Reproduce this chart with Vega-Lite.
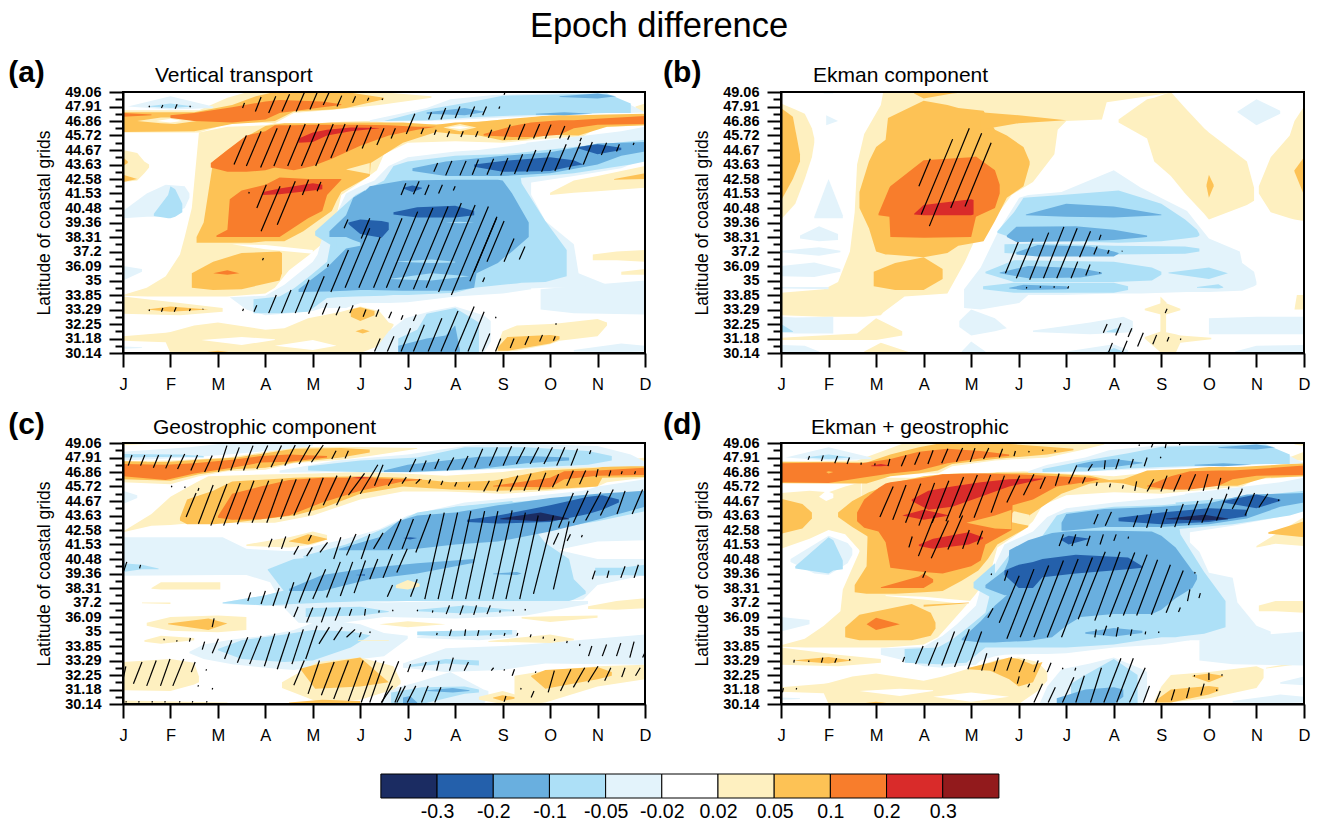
{"$schema":"https://vega.github.io/schema/vega-lite/v6.json","background":"white","padding":{"left":8,"top":8,"right":5,"bottom":5},
"title":{"text":"Epoch difference","font":"Liberation Sans","fontSize":34.5,"fontWeight":"normal","anchor":"middle","offset":14},
"config":{"font":"Liberation Sans","view":{"stroke":null},"axis":{"grid":false,"domainColor":"black","tickColor":"black","domainWidth":2,"tickWidth":2,"labelOverlap":false,"labelFlush":false}},
"datasets":{"a":[
{"g":1,"x":0,"l":3.95,"h":4,"v":0.03},{"g":1,"x":0.5,"l":3.9,"h":4.5,"v":0.03},{"g":1,"x":0.9,"l":3.9,"h":5.3,"v":0.03},{"g":1,"x":1.2,"l":3.9,"h":6.8,"v":0.03},{"g":1,"x":1.3,"l":3.9,"h":8,"v":0.03},{"g":1,"x":1.45,"l":3.9,"h":10,"v":0.03},{"g":1,"x":1.6,"l":3.9,"h":15.2,"v":0.03},{"g":1,"x":2.2,"l":3.9,"h":15.6,"v":0.03},{"g":1,"x":3,"l":4.1,"h":15.7,"v":0.03},{"g":1,"x":3.2,"l":4.5,"h":15.85,"v":0.03},{"g":1,"x":3.5,"l":5.7,"h":15.85,"v":0.03},{"g":1,"x":3.9,"l":6.7,"h":15.85,"v":0.03},{"g":1,"x":4.15,"l":7.4,"h":15.85,"v":0.03},{"g":1,"x":4.5,"l":9.5,"h":15.9,"v":0.03},{"g":1,"x":4.6,"l":10.9,"h":15.95,"v":0.03},{"g":1,"x":5.1,"l":12,"h":16,"v":0.03},{"g":1,"x":5.35,"l":12.6,"h":16,"v":0.03},{"g":1,"x":5.5,"l":13.7,"h":15.9,"v":0.03},{"g":1,"x":6,"l":14.5,"h":15.8,"v":0.03},{"g":1,"x":7,"l":14.6,"h":15.8,"v":0.03},{"g":1,"x":8,"l":14.5,"h":16.1,"v":0.03},{"g":1,"x":9,"l":14.8,"h":16.2,"v":0.03},{"g":1,"x":9.7,"l":14.95,"h":16.3,"v":0.03},{"g":1,"x":10,"l":15.55,"h":16.3,"v":0.03},{"g":1,"x":11,"l":15.7,"h":16.45,"v":0.03},
{"g":2,"x":0,"l":15.2,"h":16.75,"v":0.03},{"g":2,"x":1.6,"l":15.2,"h":16.75,"v":0.03},{"g":2,"x":2.2,"l":15.8,"h":17.6,"v":0.03},{"g":2,"x":2.63,"l":15.9,"h":18,"v":0.03},{"g":2,"x":3.2,"l":15.85,"h":18,"v":0.03},{"g":2,"x":3.6,"l":16.55,"h":18,"v":0.03},{"g":2,"x":4.5,"l":16.8,"h":18,"v":0.03},{"g":2,"x":5.4,"l":17.1,"h":18,"v":0.03},{"g":2,"x":6.5,"l":17.6,"h":17.7,"v":0.03},
{"g":3,"x":0,"l":15.25,"h":16.6,"v":0.07},{"g":3,"x":1.5,"l":15.3,"h":16.6,"v":0.07},{"g":3,"x":2.3,"l":15.8,"h":17.1,"v":0.07},{"g":3,"x":2.8,"l":15.9,"h":17.7,"v":0.07},{"g":3,"x":3.2,"l":16,"h":18,"v":0.07},{"g":3,"x":3.6,"l":16.65,"h":18,"v":0.07},{"g":3,"x":4.4,"l":16.8,"h":18,"v":0.07},{"g":3,"x":4.7,"l":16.9,"h":18,"v":0.07},{"g":3,"x":5.5,"l":17.5,"h":17.6,"v":0.07},
{"g":4,"x":0.3,"l":16,"h":16,"v":0.03},{"g":4,"x":0.8,"l":15.85,"h":16.25,"v":0.03},{"g":4,"x":1.1,"l":15.8,"h":16.25,"v":0.03},{"g":4,"x":1.55,"l":16,"h":16,"v":0.03},
{"g":5,"x":0.7,"l":16,"h":16,"v":0},{"g":5,"x":1,"l":15.9,"h":16.15,"v":0},{"g":5,"x":1.25,"l":16,"h":16,"v":0},
{"g":6,"x":0,"l":16.3,"h":16.55,"v":0.15},{"g":6,"x":0.6,"l":16.4,"h":16.45,"v":0.15},
{"g":7,"x":1,"l":16.2,"h":16.4,"v":0.15},{"g":7,"x":1.5,"l":16,"h":16.55,"v":0.15},{"g":7,"x":2.3,"l":15.9,"h":16.95,"v":0.15},{"g":7,"x":3,"l":16.1,"h":17.35,"v":0.15},{"g":7,"x":3.3,"l":16.55,"h":17.45,"v":0.15},{"g":7,"x":4.2,"l":16.95,"h":17.35,"v":0.15},{"g":7,"x":4.6,"l":17.1,"h":17.15,"v":0.15},
{"g":8,"x":2.3,"l":7.5,"h":7.5,"v":0},{"g":8,"x":3,"l":7.15,"h":7.45,"v":0},{"g":8,"x":4,"l":6.85,"h":7.1,"v":0},
{"g":9,"x":1.55,"l":7.6,"h":8,"v":0.07},{"g":9,"x":1.7,"l":7.6,"h":9,"v":0.07},{"g":9,"x":1.9,"l":7.6,"h":13.2,"v":0.07},{"g":9,"x":2.2,"l":7.6,"h":14,"v":0.07},{"g":9,"x":2.7,"l":7.6,"h":15.1,"v":0.07},{"g":9,"x":3,"l":7.7,"h":15.65,"v":0.07},{"g":9,"x":3.4,"l":7.7,"h":15.85,"v":0.07},{"g":9,"x":3.8,"l":8.4,"h":15.85,"v":0.07},{"g":9,"x":4.1,"l":9.1,"h":15.85,"v":0.07},{"g":9,"x":4.4,"l":9.8,"h":15.9,"v":0.07},{"g":9,"x":4.5,"l":10.5,"h":15.9,"v":0.07},{"g":9,"x":4.6,"l":11.1,"h":15.9,"v":0.07},{"g":9,"x":5.2,"l":12.2,"h":15.9,"v":0.07},{"g":9,"x":5.22,"l":13.1,"h":15.9,"v":0.07},{"g":9,"x":5.9,"l":14.5,"h":15.9,"v":0.07},{"g":9,"x":6.6,"l":15.25,"h":15.75,"v":0.07},{"g":9,"x":7,"l":15.1,"h":15.9,"v":0.07},{"g":9,"x":7.5,"l":15,"h":15.95,"v":0.07},{"g":9,"x":8,"l":14.65,"h":16.1,"v":0.07},{"g":9,"x":8.5,"l":14.75,"h":16.25,"v":0.07},{"g":9,"x":9,"l":15.05,"h":16.4,"v":0.07},{"g":9,"x":9.6,"l":15,"h":16.4,"v":0.07},{"g":9,"x":10.2,"l":15.6,"h":16.45,"v":0.07},{"g":9,"x":11,"l":15.7,"h":16.5,"v":0.07},
{"g":10,"x":4.7,"l":12.65,"h":12.65,"v":0.03},{"g":10,"x":5.2,"l":12.35,"h":13.1,"v":0.03},
{"g":11,"x":6.75,"l":15.55,"h":15.55,"v":0.03},{"g":11,"x":7.1,"l":15.3,"h":15.8,"v":0.03},{"g":11,"x":7.45,"l":15.55,"h":15.55,"v":0.03},
{"g":12,"x":6.85,"l":15.55,"h":15.55,"v":0},{"g":12,"x":7.1,"l":15.45,"h":15.65,"v":0},{"g":12,"x":7.3,"l":15.55,"h":15.55,"v":0},
{"g":13,"x":1.85,"l":12.8,"h":13.1,"v":0.15},{"g":13,"x":2.2,"l":12.5,"h":14,"v":0.15},{"g":13,"x":2.6,"l":12.5,"h":15,"v":0.15},{"g":13,"x":3,"l":12.6,"h":15.3,"v":0.15},{"g":13,"x":3.2,"l":12.8,"h":15.7,"v":0.15},{"g":13,"x":3.6,"l":12.6,"h":15.7,"v":0.15},{"g":13,"x":4,"l":12.9,"h":15.75,"v":0.15},{"g":13,"x":4.4,"l":13.4,"h":15.75,"v":0.15},{"g":13,"x":5,"l":14.3,"h":15.75,"v":0.15},{"g":13,"x":5.6,"l":15,"h":15.7,"v":0.15},{"g":13,"x":6.2,"l":15.4,"h":15.6,"v":0.15},{"g":13,"x":6.6,"l":15.6,"h":15.6,"v":0.15},
{"g":14,"x":7.6,"l":15,"h":15.1,"v":0.15},{"g":14,"x":8.2,"l":14.9,"h":15.65,"v":0.15},{"g":14,"x":8.6,"l":14.9,"h":15.9,"v":0.15},{"g":14,"x":9.2,"l":15.05,"h":16.05,"v":0.15},{"g":14,"x":9.5,"l":15.5,"h":16.05,"v":0.15},{"g":14,"x":10,"l":15.75,"h":16.15,"v":0.15},{"g":14,"x":11,"l":15.8,"h":16.35,"v":0.15},
{"g":15,"x":3.7,"l":14.5,"h":14.8,"v":0.25},{"g":15,"x":4,"l":14.55,"h":15.2,"v":0.25},{"g":15,"x":4.3,"l":15,"h":15.4,"v":0.25},{"g":15,"x":4.8,"l":15.3,"h":15.55,"v":0.25},{"g":15,"x":5.4,"l":15.5,"h":15.52,"v":0.25},
{"g":16,"x":1.97,"l":8,"h":8.1,"v":0.15},{"g":16,"x":2.2,"l":8,"h":8.5,"v":0.15},{"g":16,"x":2.25,"l":8,"h":10.6,"v":0.15},{"g":16,"x":2.5,"l":8,"h":11.2,"v":0.15},{"g":16,"x":3,"l":8,"h":11.6,"v":0.15},{"g":16,"x":3.3,"l":8,"h":12.1,"v":0.15},{"g":16,"x":3.9,"l":9.3,"h":12,"v":0.15},{"g":16,"x":4.2,"l":9.8,"h":12,"v":0.15},{"g":16,"x":4.3,"l":10.9,"h":12,"v":0.15},{"g":16,"x":4.6,"l":11.95,"h":12,"v":0.15},
{"g":17,"x":2.95,"l":10.9,"h":11.1,"v":0.25},{"g":17,"x":3.3,"l":10.95,"h":11.35,"v":0.25},{"g":17,"x":4,"l":11.2,"h":11.7,"v":0.25},{"g":17,"x":4.2,"l":11.3,"h":11.6,"v":0.25},
{"g":18,"x":1.45,"l":4.5,"h":5.5,"v":0.07},{"g":18,"x":1.9,"l":4.35,"h":6.3,"v":0.07},{"g":18,"x":2.5,"l":4.4,"h":6.9,"v":0.07},{"g":18,"x":3.3,"l":5,"h":7,"v":0.07},{"g":18,"x":3.35,"l":5.5,"h":6.9,"v":0.07},
{"g":19,"x":1.9,"l":5.5,"h":5.5,"v":0.15},{"g":19,"x":2.2,"l":5.4,"h":5.7,"v":0.15},{"g":19,"x":2.45,"l":5.5,"h":5.5,"v":0.15},
{"g":20,"x":0,"l":2.7,"h":3.9,"v":0.03},{"g":20,"x":1.2,"l":2.6,"h":3.45,"v":0.03},{"g":20,"x":2.1,"l":2.85,"h":3.1,"v":0.03},
{"g":21,"x":0.5,"l":3,"h":3,"v":0.07},{"g":21,"x":1,"l":2.85,"h":3.2,"v":0.07},{"g":21,"x":1.8,"l":3,"h":3,"v":0.07},
{"g":22,"x":0,"l":0.85,"h":1.15,"v":0.03},{"g":22,"x":0.9,"l":0.75,"h":1.4,"v":0.03},{"g":22,"x":1,"l":0,"h":1.45,"v":0.03},{"g":22,"x":1.5,"l":0,"h":1.9,"v":0.03},{"g":22,"x":2,"l":0,"h":2.1,"v":0.03},{"g":22,"x":3,"l":0,"h":1.6,"v":0.03},{"g":22,"x":3.4,"l":0,"h":1.7,"v":0.03},{"g":22,"x":3.9,"l":0,"h":2.4,"v":0.03},{"g":22,"x":4.6,"l":0,"h":2.85,"v":0.03},{"g":22,"x":5,"l":0,"h":3.2,"v":0.03},{"g":22,"x":5.4,"l":0.5,"h":2.9,"v":0.03},{"g":22,"x":5.6,"l":1.4,"h":2.1,"v":0.03},{"g":22,"x":5.7,"l":1.9,"h":2,"v":0.03},
{"g":23,"x":1.65,"l":0.9,"h":0.9,"v":0},{"g":23,"x":2.5,"l":0.55,"h":1.1,"v":0},{"g":23,"x":3.2,"l":0.9,"h":0.95,"v":0},
{"g":24,"x":3.2,"l":0.5,"h":0.5,"v":0},{"g":24,"x":4,"l":0.2,"h":0.9,"v":0},{"g":24,"x":4.5,"l":0.5,"h":0.5,"v":0},
{"g":25,"x":4.8,"l":2.5,"h":3,"v":0.07},{"g":25,"x":5,"l":2.2,"h":3.15,"v":0.07},{"g":25,"x":5.3,"l":2.6,"h":2.9,"v":0.07},
{"g":26,"x":4.9,"l":1.5,"h":1.5,"v":0.07},{"g":26,"x":5.05,"l":1.35,"h":1.65,"v":0.07},{"g":26,"x":5.2,"l":1.5,"h":1.5,"v":0.07},
{"g":27,"x":1.6,"l":0,"h":0,"v":0.07},{"g":27,"x":2,"l":0,"h":0.15,"v":0.07},{"g":27,"x":2.4,"l":0,"h":0,"v":0.07},
{"g":28,"x":7.85,"l":0.1,"h":0.2,"v":0.03},{"g":28,"x":8,"l":0.1,"h":1.5,"v":0.03},{"g":28,"x":8.3,"l":0.15,"h":1.9,"v":0.03},{"g":28,"x":9,"l":0.6,"h":2,"v":0.03},{"g":28,"x":9.2,"l":0.85,"h":2.05,"v":0.03},{"g":28,"x":10,"l":1.15,"h":2.35,"v":0.03},{"g":28,"x":10.2,"l":1.9,"h":2.1,"v":0.03},
{"g":29,"x":7.9,"l":0.15,"h":0.4,"v":0.07},{"g":29,"x":8.1,"l":0.15,"h":1.1,"v":0.07},{"g":29,"x":9,"l":0.65,"h":1.25,"v":0.07},{"g":29,"x":9.2,"l":0.95,"h":1.15,"v":0.07},
{"g":30,"x":9,"l":10.9,"h":11.05,"v":0.03},{"g":30,"x":9.5,"l":11.05,"h":11.9,"v":0.03},{"g":30,"x":10,"l":11.15,"h":12.2,"v":0.03},{"g":30,"x":11,"l":11.4,"h":12.9,"v":0.03},
{"g":31,"x":10.35,"l":11.95,"h":12,"v":0.07},{"g":31,"x":11,"l":12,"h":12.4,"v":0.07},
{"g":32,"x":10.8,"l":16.6,"h":17,"v":0.03},{"g":32,"x":11,"l":16.6,"h":17.2,"v":0.03},
{"g":33,"x":9.9,"l":6.4,"h":6.8,"v":0.03},{"g":33,"x":10.4,"l":6.4,"h":7,"v":0.03},{"g":33,"x":11,"l":6.3,"h":7.1,"v":0.03},
{"g":34,"x":10.5,"l":5.4,"h":5.6,"v":0.03},{"g":34,"x":11,"l":5.4,"h":5.8,"v":0.03},
{"g":35,"x":0,"l":11.8,"h":14,"v":0.03},{"g":35,"x":0.3,"l":11.9,"h":13.8,"v":0.03},{"g":35,"x":0.45,"l":12.4,"h":13.2,"v":0.03},{"g":35,"x":0.55,"l":12.8,"h":13,"v":0.03},
{"g":36,"x":0,"l":12.9,"h":13.5,"v":0.07},{"g":36,"x":0.1,"l":13.1,"h":13.2,"v":0.07},
{"g":37,"x":0,"l":11.8,"h":12.3,"v":0.07},{"g":37,"x":0.3,"l":12,"h":12,"v":0.07},
{"g":38,"x":2.25,"l":3.85,"h":3.85,"v":-0.03},{"g":38,"x":2.6,"l":3,"h":3.9,"v":-0.03},{"g":38,"x":3,"l":2.6,"h":3.95,"v":-0.03},{"g":38,"x":3.4,"l":2.7,"h":4.7,"v":-0.03},{"g":38,"x":3.7,"l":2.8,"h":5.5,"v":-0.03},{"g":38,"x":4,"l":2.9,"h":6.3,"v":-0.03},{"g":38,"x":4.1,"l":3,"h":6.8,"v":-0.03},{"g":38,"x":4.2,"l":3.1,"h":8,"v":-0.03},{"g":38,"x":4.5,"l":3.1,"h":9.6,"v":-0.03},{"g":38,"x":4.7,"l":3.1,"h":11,"v":-0.03},{"g":38,"x":5,"l":3.45,"h":11.5,"v":-0.03},{"g":38,"x":5.3,"l":3.45,"h":11.9,"v":-0.03},{"g":38,"x":5.6,"l":3.45,"h":12.9,"v":-0.03},{"g":38,"x":6,"l":3.5,"h":13.5,"v":-0.03},{"g":38,"x":7,"l":3.9,"h":13.9,"v":-0.03},{"g":38,"x":7.5,"l":4,"h":14,"v":-0.03},{"g":38,"x":8,"l":4.1,"h":14.2,"v":-0.03},{"g":38,"x":8.6,"l":4.4,"h":14.5,"v":-0.03},
{"g":39,"x":8.55,"l":4.45,"h":11.2,"v":-0.03},{"g":39,"x":8.9,"l":4.5,"h":9.1,"v":-0.03},{"g":39,"x":9.5,"l":4.5,"h":7.5,"v":-0.03},{"g":39,"x":9.6,"l":4.5,"h":5.5,"v":-0.03},{"g":39,"x":10.2,"l":4.6,"h":4.7,"v":-0.03},
{"g":40,"x":8.5,"l":11.7,"h":14.5,"v":-0.03},{"g":40,"x":9.5,"l":12.2,"h":14.9,"v":-0.03},{"g":40,"x":10.5,"l":12.75,"h":15.3,"v":-0.03},{"g":40,"x":11,"l":13.4,"h":15.6,"v":-0.03},
{"g":41,"x":8.8,"l":3,"h":4.4,"v":-0.03},{"g":41,"x":9.5,"l":2.75,"h":4.6,"v":-0.03},{"g":41,"x":11,"l":2.65,"h":5,"v":-0.03},
{"g":42,"x":0,"l":9.3,"h":9.8,"v":-0.03},{"g":42,"x":0.5,"l":9.4,"h":11,"v":-0.03},{"g":42,"x":0.9,"l":9.4,"h":11.6,"v":-0.03},{"g":42,"x":1.3,"l":10,"h":11.5,"v":-0.03},{"g":42,"x":1.4,"l":10.7,"h":11,"v":-0.03},
{"g":43,"x":0.65,"l":9.45,"h":9.6,"v":-0.07},{"g":43,"x":0.95,"l":9.3,"h":10.9,"v":-0.07},{"g":43,"x":1,"l":9.3,"h":11.5,"v":-0.07},{"g":43,"x":1.1,"l":9.4,"h":11.3,"v":-0.07},{"g":43,"x":1.25,"l":9.7,"h":10.3,"v":-0.07},
{"g":44,"x":0.1,"l":17,"h":17,"v":-0.03},{"g":44,"x":1,"l":16.8,"h":17.7,"v":-0.03},{"g":44,"x":1.9,"l":16.9,"h":17,"v":-0.03},
{"g":45,"x":0.5,"l":17,"h":17,"v":-0.07},{"g":45,"x":1,"l":16.9,"h":17.2,"v":-0.07},{"g":45,"x":1.5,"l":17,"h":17,"v":-0.07},
{"g":46,"x":0,"l":5,"h":6,"v":-0.03},{"g":46,"x":0.4,"l":5.6,"h":5.8,"v":-0.03},
{"g":47,"x":0,"l":0.3,"h":0.45,"v":-0.03},{"g":47,"x":0.4,"l":0.35,"h":0.4,"v":-0.03},
{"g":48,"x":5.2,"l":15.95,"h":16.05,"v":-0.03},{"g":48,"x":6.4,"l":16,"h":16.9,"v":-0.03},{"g":48,"x":6.9,"l":16.05,"h":17.5,"v":-0.03},{"g":48,"x":7.8,"l":16.2,"h":17.8,"v":-0.03},{"g":48,"x":10,"l":16.55,"h":18,"v":-0.03},{"g":48,"x":10.7,"l":16.55,"h":17.1,"v":-0.03},{"g":48,"x":11,"l":16.6,"h":16.6,"v":-0.03},
{"g":49,"x":5.5,"l":16,"h":16,"v":-0.07},{"g":49,"x":6.5,"l":16.05,"h":16.85,"v":-0.07},{"g":49,"x":7.3,"l":16.25,"h":17.3,"v":-0.07},{"g":49,"x":8,"l":16.35,"h":17.75,"v":-0.07},{"g":49,"x":10.2,"l":16.55,"h":17.9,"v":-0.07},{"g":49,"x":10.7,"l":16.55,"h":17.2,"v":-0.07},
{"g":50,"x":6.4,"l":16.5,"h":16.6,"v":-0.15},{"g":50,"x":7.2,"l":16.4,"h":16.9,"v":-0.15},{"g":50,"x":7.6,"l":16.6,"h":16.65,"v":-0.15},
{"g":51,"x":8.7,"l":16.45,"h":16.5,"v":-0.15},{"g":51,"x":9.3,"l":16.4,"h":16.6,"v":-0.15},{"g":51,"x":9.9,"l":16.5,"h":16.5,"v":-0.15},
{"g":52,"x":9.2,"l":17.65,"h":17.7,"v":-0.15},{"g":52,"x":10,"l":17.55,"h":17.9,"v":-0.15},{"g":52,"x":10.4,"l":17.7,"h":17.7,"v":-0.15},
{"g":53,"x":2.75,"l":2.75,"h":3.7,"v":-0.07},{"g":53,"x":3.3,"l":2.75,"h":3.9,"v":-0.07},{"g":53,"x":3.6,"l":2.8,"h":4.45,"v":-0.07},{"g":53,"x":3.9,"l":2.85,"h":5.2,"v":-0.07},{"g":53,"x":4.3,"l":3.8,"h":6.3,"v":-0.07},{"g":53,"x":4.5,"l":3.85,"h":9.7,"v":-0.07},{"g":53,"x":4.9,"l":3.9,"h":10.9,"v":-0.07},{"g":53,"x":5.5,"l":3.95,"h":11.9,"v":-0.07},{"g":53,"x":5.7,"l":4,"h":12.9,"v":-0.07},{"g":53,"x":6,"l":4,"h":13.2,"v":-0.07},{"g":53,"x":7,"l":4.15,"h":13.6,"v":-0.07},{"g":53,"x":7.4,"l":4.5,"h":13.65,"v":-0.07},{"g":53,"x":8,"l":4.7,"h":13.7,"v":-0.07},{"g":53,"x":8.3,"l":4.8,"h":13.8,"v":-0.07},{"g":53,"x":8.4,"l":4.85,"h":11.7,"v":-0.07},{"g":53,"x":8.9,"l":4.9,"h":9.1,"v":-0.07},{"g":53,"x":9.35,"l":5.3,"h":7.1,"v":-0.07},
{"g":54,"x":4.05,"l":8.1,"h":8.4,"v":-0.07},{"g":54,"x":4.5,"l":7.2,"h":9.7,"v":-0.07},
{"g":55,"x":8.3,"l":12.05,"h":13.8,"v":-0.07},{"g":55,"x":9.5,"l":12.4,"h":14.2,"v":-0.07},{"g":55,"x":10.7,"l":13,"h":14.6,"v":-0.07},{"g":55,"x":11,"l":13.2,"h":14.7,"v":-0.07},
{"g":56,"x":3.7,"l":4.2,"h":4.4,"v":-0.15},{"g":56,"x":4.3,"l":4.25,"h":5.9,"v":-0.15},{"g":56,"x":4.7,"l":4.3,"h":7.2,"v":-0.15},{"g":56,"x":5,"l":4.35,"h":7.4,"v":-0.15},{"g":56,"x":5.05,"l":4.35,"h":11,"v":-0.15},{"g":56,"x":5.2,"l":4.35,"h":11.5,"v":-0.15},{"g":56,"x":5.9,"l":4.3,"h":11.9,"v":-0.15},{"g":56,"x":7,"l":4.3,"h":11.95,"v":-0.15},{"g":56,"x":7.4,"l":4.5,"h":11.95,"v":-0.15},{"g":56,"x":7.45,"l":5.5,"h":11.95,"v":-0.15},{"g":56,"x":7.9,"l":6.2,"h":11.95,"v":-0.15},{"g":56,"x":8,"l":6.5,"h":11.9,"v":-0.15},{"g":56,"x":8.2,"l":7,"h":11,"v":-0.15},{"g":56,"x":8.55,"l":8,"h":9,"v":-0.15},
{"g":57,"x":4.35,"l":8,"h":8.4,"v":-0.15},{"g":57,"x":4.7,"l":8,"h":9.5,"v":-0.15},{"g":57,"x":4.85,"l":7.8,"h":10.7,"v":-0.15},{"g":57,"x":5.1,"l":7.5,"h":11.2,"v":-0.15},
{"g":58,"x":5.7,"l":6.3,"h":6.3,"v":-0.07},{"g":58,"x":6.5,"l":6.2,"h":6.45,"v":-0.07},{"g":58,"x":7,"l":6.25,"h":6.3,"v":-0.07},
{"g":59,"x":5.6,"l":5.1,"h":5.1,"v":-0.07},{"g":59,"x":6.5,"l":5,"h":5.5,"v":-0.07},{"g":59,"x":7.3,"l":5.3,"h":5.3,"v":-0.07},
{"g":60,"x":6.8,"l":9,"h":9,"v":-0.07},{"g":60,"x":7.1,"l":8.95,"h":9.05,"v":-0.07},{"g":60,"x":7.4,"l":9,"h":9,"v":-0.07},
{"g":61,"x":6.1,"l":12.55,"h":12.75,"v":-0.15},{"g":61,"x":6.8,"l":12.2,"h":13.2,"v":-0.15},{"g":61,"x":8,"l":12.2,"h":13.6,"v":-0.15},{"g":61,"x":9,"l":12.4,"h":13.85,"v":-0.15},{"g":61,"x":10,"l":13,"h":14.45,"v":-0.15},{"g":61,"x":10.5,"l":13.6,"h":14.5,"v":-0.15},{"g":61,"x":11,"l":13.9,"h":14.55,"v":-0.15},
{"g":62,"x":7.4,"l":12.85,"h":13,"v":-0.25},{"g":62,"x":8,"l":12.5,"h":13.25,"v":-0.25},{"g":62,"x":9,"l":12.55,"h":13.5,"v":-0.25},{"g":62,"x":9.5,"l":12.9,"h":13.3,"v":-0.25},{"g":62,"x":9.7,"l":13,"h":13,"v":-0.25},
{"g":63,"x":9.6,"l":14.1,"h":14.2,"v":-0.25},{"g":63,"x":10,"l":13.7,"h":14.4,"v":-0.25},{"g":63,"x":10.5,"l":14,"h":14.15,"v":-0.25},
{"g":64,"x":5.7,"l":9.55,"h":9.7,"v":-0.25},{"g":64,"x":6.2,"l":9.35,"h":10.05,"v":-0.25},{"g":64,"x":7,"l":9.35,"h":10.15,"v":-0.25},{"g":64,"x":7.4,"l":9.5,"h":9.8,"v":-0.25},
{"g":65,"x":4.75,"l":8.9,"h":9,"v":-0.25},{"g":65,"x":5,"l":8.2,"h":9.2,"v":-0.25},{"g":65,"x":5.45,"l":7.95,"h":9.1,"v":-0.25},{"g":65,"x":5.6,"l":8.5,"h":9,"v":-0.25},
{"g":66,"x":5.9,"l":11.35,"h":11.4,"v":-0.25},{"g":66,"x":6.1,"l":11.1,"h":11.55,"v":-0.25},{"g":66,"x":6.3,"l":11.35,"h":11.4,"v":-0.25},
{"g":67,"x":5.3,"l":0,"h":0.2,"v":-0.03},{"g":67,"x":5.6,"l":0,"h":1.5,"v":-0.03},{"g":67,"x":5.95,"l":0,"h":2.4,"v":-0.03},{"g":67,"x":6.5,"l":0,"h":2.9,"v":-0.03},{"g":67,"x":7,"l":0,"h":3.2,"v":-0.03},{"g":67,"x":7.6,"l":0,"h":2.6,"v":-0.03},{"g":67,"x":7.75,"l":0.8,"h":2.2,"v":-0.03},
{"g":68,"x":5.8,"l":0,"h":1,"v":-0.07},{"g":68,"x":6.2,"l":0,"h":1.6,"v":-0.07},{"g":68,"x":6.4,"l":0,"h":2.7,"v":-0.07},{"g":68,"x":7,"l":0,"h":3.1,"v":-0.07},{"g":68,"x":7.5,"l":0,"h":2.1,"v":-0.07},
{"g":69,"x":5.8,"l":0,"h":0.5,"v":-0.15},{"g":69,"x":6.4,"l":0,"h":1,"v":-0.15},{"g":69,"x":6.8,"l":0,"h":1.2,"v":-0.15},{"g":69,"x":7,"l":0,"h":1.9,"v":-0.15},{"g":69,"x":7.1,"l":0,"h":0.2,"v":-0.15},
{"g":70,"x":9.5,"l":0.1,"h":0.2,"v":-0.03},{"g":70,"x":10.5,"l":0.05,"h":0.65,"v":-0.03},{"g":70,"x":11,"l":0.1,"h":0.5,"v":-0.03}
],
"b":[
{"g":1,"x":0,"l":2.6,"h":4.15,"v":0.03},{"g":1,"x":0.9,"l":2.5,"h":4.4,"v":0.03},{"g":1,"x":1.2,"l":2.5,"h":4.9,"v":0.03},{"g":1,"x":1.45,"l":2.5,"h":7,"v":0.03},{"g":1,"x":1.55,"l":2.5,"h":9.7,"v":0.03},{"g":1,"x":1.6,"l":2.5,"h":13,"v":0.03},{"g":1,"x":1.75,"l":2.5,"h":15.1,"v":0.03},{"g":1,"x":2.1,"l":2.6,"h":17.1,"v":0.03},{"g":1,"x":2.15,"l":2.8,"h":18,"v":0.03},{"g":1,"x":2.6,"l":3.9,"h":18,"v":0.03},{"g":1,"x":3.5,"l":4.1,"h":18,"v":0.03},{"g":1,"x":3.87,"l":6.3,"h":18,"v":0.03},{"g":1,"x":4.05,"l":7.6,"h":18,"v":0.03},{"g":1,"x":4.4,"l":8.9,"h":18,"v":0.03},{"g":1,"x":4.85,"l":10.9,"h":18,"v":0.03},{"g":1,"x":5.3,"l":11.8,"h":18,"v":0.03},{"g":1,"x":5.75,"l":13.7,"h":18,"v":0.03},{"g":1,"x":5.82,"l":15.4,"h":18,"v":0.03},{"g":1,"x":6,"l":16,"h":18,"v":0.03},{"g":1,"x":6.75,"l":16.1,"h":18,"v":0.03},{"g":1,"x":6.85,"l":17.3,"h":18,"v":0.03},{"g":1,"x":7.5,"l":17.6,"h":18,"v":0.03},{"g":1,"x":8.2,"l":17.95,"h":18,"v":0.03},
{"g":2,"x":7.1,"l":15.9,"h":16.1,"v":0.03},{"g":2,"x":7.7,"l":14.8,"h":17.5,"v":0.03},{"g":2,"x":7.85,"l":13.2,"h":17.6,"v":0.03},{"g":2,"x":8.2,"l":12.2,"h":18,"v":0.03},{"g":2,"x":8.5,"l":11,"h":16.9,"v":0.03},{"g":2,"x":8.9,"l":9.6,"h":15.5,"v":0.03},{"g":2,"x":9,"l":9.2,"h":15.2,"v":0.03},{"g":2,"x":9.8,"l":10.2,"h":13.2,"v":0.03},{"g":2,"x":9.95,"l":10.5,"h":11.4,"v":0.03},
{"g":3,"x":8.95,"l":11.5,"h":11.6,"v":0.07},{"g":3,"x":9,"l":10.7,"h":12.3,"v":0.07},{"g":3,"x":9.1,"l":11.5,"h":11.6,"v":0.07},
{"g":4,"x":10.05,"l":11,"h":11.5,"v":0.03},{"g":4,"x":10.3,"l":9.7,"h":13.5,"v":0.03},{"g":4,"x":10.7,"l":9.3,"h":15,"v":0.03},{"g":4,"x":10.8,"l":9.2,"h":16,"v":0.03},{"g":4,"x":11,"l":9.1,"h":17,"v":0.03},
{"g":5,"x":10.8,"l":12.5,"h":12.6,"v":0.07},{"g":5,"x":11,"l":10.9,"h":13.5,"v":0.07},
{"g":6,"x":0,"l":9.2,"h":17.2,"v":0.03},{"g":6,"x":0.3,"l":10.3,"h":16.8,"v":0.03},{"g":6,"x":0.5,"l":12,"h":16.5,"v":0.03},{"g":6,"x":0.65,"l":13.5,"h":15.5,"v":0.03},{"g":6,"x":0.7,"l":14.5,"h":14.8,"v":0.03},
{"g":7,"x":0,"l":10.5,"h":16.9,"v":0.07},{"g":7,"x":0.25,"l":12,"h":16.3,"v":0.07},{"g":7,"x":0.4,"l":13.2,"h":13.7,"v":0.07},
{"g":8,"x":10.8,"l":3,"h":3,"v":0.03},{"g":8,"x":10.85,"l":3,"h":4,"v":0.03},{"g":8,"x":11,"l":3,"h":4,"v":0.03},
{"g":9,"x":1.65,"l":10,"h":11.1,"v":0.07},{"g":9,"x":1.85,"l":8.6,"h":13.2,"v":0.07},{"g":9,"x":2,"l":7,"h":14.2,"v":0.07},{"g":9,"x":2.2,"l":6.8,"h":14.7,"v":0.07},{"g":9,"x":2.25,"l":6.8,"h":16.2,"v":0.07},{"g":9,"x":3,"l":6.6,"h":17.4,"v":0.07},{"g":9,"x":3.5,"l":6.9,"h":17.1,"v":0.07},{"g":9,"x":3.73,"l":7.4,"h":16.9,"v":0.07},{"g":9,"x":4.26,"l":7.7,"h":16.7,"v":0.07},{"g":9,"x":4.5,"l":9.1,"h":15.4,"v":0.07},{"g":9,"x":4.75,"l":10.7,"h":15,"v":0.07},{"g":9,"x":5.1,"l":11.5,"h":14.2,"v":0.07},{"g":9,"x":5.23,"l":13,"h":13.2,"v":0.07},
{"g":10,"x":4.2,"l":15.4,"h":16.6,"v":0.07},{"g":10,"x":5,"l":15.85,"h":16.4,"v":0.07},{"g":10,"x":6,"l":16.05,"h":16.05,"v":0.07},
{"g":11,"x":1.95,"l":4.6,"h":5.6,"v":0.07},{"g":11,"x":2.4,"l":4.35,"h":6.2,"v":0.07},{"g":11,"x":3,"l":4.35,"h":6.6,"v":0.07},{"g":11,"x":3.4,"l":5.1,"h":5.8,"v":0.07},
{"g":12,"x":2.8,"l":17.9,"h":18,"v":0.07},{"g":12,"x":3,"l":17.55,"h":18,"v":0.07},{"g":12,"x":3.6,"l":17.9,"h":18,"v":0.07},{"g":12,"x":3.95,"l":18,"h":18,"v":0.07},
{"g":13,"x":2.05,"l":9.5,"h":9.6,"v":0.15},{"g":13,"x":2.28,"l":9.4,"h":11.4,"v":0.15},{"g":13,"x":2.3,"l":8,"h":11.5,"v":0.15},{"g":13,"x":3,"l":7.95,"h":13.3,"v":0.15},{"g":13,"x":4,"l":8,"h":13.5,"v":0.15},{"g":13,"x":4.1,"l":9.4,"h":13.55,"v":0.15},{"g":13,"x":4.5,"l":10,"h":12.6,"v":0.15},{"g":13,"x":4.6,"l":11,"h":11.6,"v":0.15},
{"g":14,"x":2.8,"l":9.55,"h":9.6,"v":0.25},{"g":14,"x":3,"l":9.5,"h":10.2,"v":0.25},{"g":14,"x":4,"l":9.5,"h":10.6,"v":0.25},{"g":14,"x":4.05,"l":9.55,"h":10.55,"v":0.25},
{"g":15,"x":3.85,"l":3.1,"h":4.4,"v":-0.03},{"g":15,"x":4.2,"l":3,"h":5.9,"v":-0.03},{"g":15,"x":4.57,"l":3.2,"h":8.4,"v":-0.03},{"g":15,"x":5.01,"l":3.45,"h":10.7,"v":-0.03},{"g":15,"x":5.1,"l":3.7,"h":10.8,"v":-0.03},{"g":15,"x":5.2,"l":4,"h":10.9,"v":-0.03},{"g":15,"x":5.9,"l":4,"h":11.1,"v":-0.03},{"g":15,"x":7,"l":4.1,"h":12.6,"v":-0.03},{"g":15,"x":7.57,"l":4.1,"h":11.4,"v":-0.03},{"g":15,"x":8.54,"l":4.2,"h":9.8,"v":-0.03},{"g":15,"x":9,"l":4.2,"h":7.9,"v":-0.03},{"g":15,"x":9.65,"l":4.3,"h":7,"v":-0.03},{"g":15,"x":9.7,"l":4.3,"h":6.2,"v":-0.03},{"g":15,"x":9.95,"l":4.6,"h":5.6,"v":-0.03},{"g":15,"x":10,"l":4.7,"h":4.9,"v":-0.03},
{"g":16,"x":3.75,"l":1.8,"h":2.2,"v":-0.03},{"g":16,"x":4,"l":1.2,"h":3,"v":-0.03},{"g":16,"x":4.5,"l":1.5,"h":2.4,"v":-0.03},{"g":16,"x":4.75,"l":1.7,"h":1.7,"v":-0.03},
{"g":17,"x":4.55,"l":8.3,"h":8.4,"v":-0.07},{"g":17,"x":4.9,"l":7.9,"h":9.7,"v":-0.07},{"g":17,"x":5.1,"l":7.7,"h":10.7,"v":-0.07},{"g":17,"x":5.9,"l":7.7,"h":10.9,"v":-0.07},{"g":17,"x":7.1,"l":7.6,"h":11.2,"v":-0.07},{"g":17,"x":8,"l":7.7,"h":10.3,"v":-0.07},{"g":17,"x":8.5,"l":7.9,"h":9.2,"v":-0.07},{"g":17,"x":8.75,"l":8,"h":8.5,"v":-0.07},{"g":17,"x":8.8,"l":8.1,"h":8.2,"v":-0.07},
{"g":18,"x":4.7,"l":6.9,"h":7.5,"v":-0.07},{"g":18,"x":5.5,"l":6.75,"h":7.55,"v":-0.07},{"g":18,"x":7,"l":6.8,"h":7.4,"v":-0.07},{"g":18,"x":8.5,"l":6.85,"h":7.35,"v":-0.07},{"g":18,"x":8.8,"l":7,"h":7.2,"v":-0.07},
{"g":19,"x":4.3,"l":5.5,"h":5.6,"v":-0.07},{"g":19,"x":4.9,"l":4.9,"h":6.4,"v":-0.07},{"g":19,"x":7,"l":4.9,"h":6.3,"v":-0.07},{"g":19,"x":7.8,"l":5,"h":5.9,"v":-0.07},{"g":19,"x":8,"l":5.4,"h":5.6,"v":-0.07},
{"g":20,"x":4.25,"l":4.4,"h":4.6,"v":-0.07},{"g":20,"x":4.9,"l":4.15,"h":4.85,"v":-0.07},{"g":20,"x":7,"l":4.15,"h":4.85,"v":-0.07},{"g":20,"x":7.3,"l":4.35,"h":4.6,"v":-0.07},
{"g":21,"x":8.15,"l":5.5,"h":5.55,"v":-0.07},{"g":21,"x":9,"l":5.1,"h":5.9,"v":-0.07},{"g":21,"x":9.4,"l":5.5,"h":5.5,"v":-0.07},
{"g":22,"x":8.75,"l":4.5,"h":4.55,"v":-0.07},{"g":22,"x":9.2,"l":4.45,"h":4.75,"v":-0.07},{"g":22,"x":9.3,"l":4.5,"h":4.55,"v":-0.07},
{"g":23,"x":5.15,"l":9.5,"h":9.55,"v":-0.15},{"g":23,"x":6,"l":9.4,"h":10.3,"v":-0.15},{"g":23,"x":7,"l":9.35,"h":10.1,"v":-0.15},{"g":23,"x":8,"l":9.5,"h":9.55,"v":-0.15},
{"g":24,"x":4.75,"l":8,"h":8.1,"v":-0.15},{"g":24,"x":4.95,"l":7.65,"h":8.7,"v":-0.15},{"g":24,"x":6.2,"l":7.7,"h":8.75,"v":-0.15},{"g":24,"x":7,"l":7.8,"h":8.5,"v":-0.15},{"g":24,"x":7.7,"l":8,"h":8.1,"v":-0.15},
{"g":25,"x":4.95,"l":6.8,"h":6.95,"v":-0.15},{"g":25,"x":5.4,"l":6.65,"h":7.45,"v":-0.15},{"g":25,"x":6.5,"l":6.65,"h":7.35,"v":-0.15},{"g":25,"x":7,"l":6.65,"h":7,"v":-0.15},{"g":25,"x":7.1,"l":6.85,"h":6.9,"v":-0.15},
{"g":26,"x":4.6,"l":5.5,"h":5.55,"v":-0.15},{"g":26,"x":5.2,"l":5.15,"h":6,"v":-0.15},{"g":26,"x":6.3,"l":5.2,"h":5.85,"v":-0.15},{"g":26,"x":6.75,"l":5.45,"h":5.55,"v":-0.15},
{"g":27,"x":4.8,"l":4.45,"h":4.5,"v":-0.15},{"g":27,"x":5.1,"l":4.35,"h":4.7,"v":-0.15},{"g":27,"x":6,"l":4.4,"h":4.6,"v":-0.15},{"g":27,"x":6.05,"l":4.45,"h":4.5,"v":-0.15},
{"g":28,"x":0.7,"l":9.3,"h":9.4,"v":-0.03},{"g":28,"x":1,"l":9.3,"h":12,"v":-0.03},{"g":28,"x":1.3,"l":9.3,"h":9.5,"v":-0.03},
{"g":29,"x":0.4,"l":7.9,"h":8.1,"v":-0.03},{"g":29,"x":0.8,"l":7.7,"h":8.75,"v":-0.03},{"g":29,"x":1.2,"l":7.8,"h":8.2,"v":-0.03},
{"g":30,"x":0,"l":6.95,"h":7.05,"v":-0.03},{"g":30,"x":0.8,"l":6.7,"h":7.3,"v":-0.03},{"g":30,"x":1.25,"l":6.95,"h":7.05,"v":-0.03},
{"g":31,"x":0,"l":5.3,"h":6,"v":-0.03},{"g":31,"x":0.7,"l":5.25,"h":6.25,"v":-0.03},{"g":31,"x":1.25,"l":5.6,"h":5.8,"v":-0.03},
{"g":32,"x":0,"l":4.45,"h":4.55,"v":-0.03},{"g":32,"x":1,"l":4.4,"h":4.55,"v":-0.03},
{"g":33,"x":0,"l":1.4,"h":2.5,"v":-0.03},{"g":33,"x":0.3,"l":1.35,"h":2.45,"v":-0.03},{"g":33,"x":1.1,"l":1.35,"h":2.5,"v":-0.03},
{"g":34,"x":0,"l":1.45,"h":2,"v":-0.07},{"g":34,"x":0.25,"l":1.45,"h":1.5,"v":-0.07},
{"g":35,"x":0,"l":0,"h":0.55,"v":-0.03},{"g":35,"x":0.5,"l":0,"h":0.5,"v":-0.03},{"g":35,"x":0.8,"l":0,"h":0.1,"v":-0.03},
{"g":36,"x":0.9,"l":17.9,"h":18,"v":-0.03},{"g":36,"x":1.1,"l":17.9,"h":18,"v":-0.03},
{"g":37,"x":0.95,"l":15.7,"h":16.4,"v":-0.03},{"g":37,"x":1.2,"l":16,"h":16,"v":-0.03},
{"g":38,"x":3.8,"l":0,"h":0.1,"v":-0.03},{"g":38,"x":4,"l":0,"h":0.8,"v":-0.03},{"g":38,"x":4.3,"l":0,"h":0.1,"v":-0.03},
{"g":39,"x":5.3,"l":1.45,"h":1.55,"v":-0.03},{"g":39,"x":6.5,"l":1.3,"h":2.1,"v":-0.03},{"g":39,"x":7.2,"l":1.4,"h":2.5,"v":-0.03},{"g":39,"x":7.4,"l":1.45,"h":2.2,"v":-0.03},
{"g":40,"x":6,"l":0,"h":0.1,"v":-0.03},{"g":40,"x":7,"l":0,"h":0.6,"v":-0.03},{"g":40,"x":7.3,"l":0,"h":0.2,"v":-0.03},
{"g":41,"x":6.85,"l":0,"h":0.1,"v":-0.07},{"g":41,"x":7,"l":0,"h":0.35,"v":-0.07},{"g":41,"x":7.2,"l":0,"h":0.1,"v":-0.07},
{"g":42,"x":6.85,"l":1.45,"h":1.5,"v":-0.07},{"g":42,"x":7.1,"l":1.4,"h":1.75,"v":-0.07},
{"g":43,"x":9,"l":1.3,"h":2.4,"v":-0.03},{"g":43,"x":10,"l":1.3,"h":2.5,"v":-0.03},{"g":43,"x":11,"l":1.3,"h":2.5,"v":-0.03},
{"g":44,"x":9.55,"l":0,"h":0.1,"v":-0.03},{"g":44,"x":10,"l":0,"h":0.5,"v":-0.03},{"g":44,"x":11,"l":0,"h":0.55,"v":-0.03},
{"g":45,"x":9.6,"l":16.6,"h":16.65,"v":-0.03},{"g":45,"x":10,"l":15.7,"h":17.5,"v":-0.03},{"g":45,"x":10.5,"l":16.5,"h":16.7,"v":-0.03},
{"g":46,"x":0,"l":0.9,"h":1.05,"v":0.03},{"g":46,"x":1.6,"l":0.9,"h":1.35,"v":0.03},{"g":46,"x":2,"l":0.9,"h":2.4,"v":0.03},{"g":46,"x":2.55,"l":1.2,"h":1.5,"v":0.03},
{"g":47,"x":1.75,"l":0,"h":0.1,"v":0.03},{"g":47,"x":2.1,"l":0,"h":0.7,"v":0.03},{"g":47,"x":2.7,"l":0,"h":0.05,"v":0.03},
{"g":48,"x":7.65,"l":2.95,"h":3.05,"v":0.03},{"g":48,"x":8.05,"l":2.6,"h":3.5,"v":0.03},{"g":48,"x":8.4,"l":2.95,"h":3.05,"v":0.03},
{"g":49,"x":7.98,"l":1.4,"h":3.9,"v":0.03},{"g":49,"x":8.1,"l":1.4,"h":3.5,"v":0.03},
{"g":50,"x":7.65,"l":1,"h":1.1,"v":0.03},{"g":50,"x":8,"l":0,"h":1.5,"v":0.03},{"g":50,"x":8.3,"l":0,"h":1.3,"v":0.03},{"g":50,"x":8.4,"l":0.7,"h":1.2,"v":0.03},{"g":50,"x":9.05,"l":0.95,"h":1.05,"v":0.03}
],
"c":[
{"g":1,"x":0,"l":0,"h":0.25,"v":0.03},{"g":1,"x":2.2,"l":0,"h":0.1,"v":0.03},
{"g":2,"x":0,"l":15.3,"h":16.75,"v":0.03},{"g":2,"x":1,"l":15.15,"h":16.8,"v":0.03},{"g":2,"x":1.6,"l":15.7,"h":16.9,"v":0.03},{"g":2,"x":2.2,"l":16.05,"h":17,"v":0.03},{"g":2,"x":3,"l":16.15,"h":17.4,"v":0.03},{"g":2,"x":3.6,"l":16.6,"h":17.7,"v":0.03},{"g":2,"x":4.6,"l":16.85,"h":17.75,"v":0.03},{"g":2,"x":5.2,"l":17.1,"h":17.7,"v":0.03},{"g":2,"x":6.2,"l":17.6,"h":17.65,"v":0.03},
{"g":3,"x":0,"l":15.5,"h":16.65,"v":0.07},{"g":3,"x":1,"l":15.4,"h":16.7,"v":0.07},{"g":3,"x":1.6,"l":15.85,"h":16.85,"v":0.07},{"g":3,"x":2.4,"l":16.2,"h":17,"v":0.07},{"g":3,"x":3,"l":16.3,"h":17.3,"v":0.07},{"g":3,"x":3.6,"l":16.65,"h":17.6,"v":0.07},{"g":3,"x":4.6,"l":17,"h":17.65,"v":0.07},{"g":3,"x":5.2,"l":17.35,"h":17.55,"v":0.07},
{"g":4,"x":0,"l":15.7,"h":16.55,"v":0.15},{"g":4,"x":0.9,"l":15.45,"h":16.5,"v":0.15},{"g":4,"x":1.5,"l":15.9,"h":16.6,"v":0.15},{"g":4,"x":2.3,"l":16.3,"h":16.85,"v":0.15},{"g":4,"x":2.9,"l":16.65,"h":17.1,"v":0.15},{"g":4,"x":3.5,"l":16.7,"h":17.2,"v":0.15},{"g":4,"x":4.3,"l":17,"h":17.1,"v":0.15},
{"g":5,"x":0,"l":11.85,"h":11.9,"v":0.03},{"g":5,"x":0.6,"l":12.3,"h":13.1,"v":0.03},{"g":5,"x":1,"l":12.35,"h":14.3,"v":0.03},{"g":5,"x":1.55,"l":12.5,"h":15.3,"v":0.03},{"g":5,"x":1.8,"l":12.5,"h":15.7,"v":0.03},{"g":5,"x":3.2,"l":12.5,"h":15.85,"v":0.03},{"g":5,"x":4,"l":13,"h":15.9,"v":0.03},{"g":5,"x":5,"l":14.1,"h":16,"v":0.03},{"g":5,"x":5.9,"l":14.65,"h":15.9,"v":0.03},{"g":5,"x":6.8,"l":14.65,"h":15.75,"v":0.03},{"g":5,"x":8,"l":14.5,"h":16,"v":0.03},{"g":5,"x":9,"l":14.7,"h":16.4,"v":0.03},{"g":5,"x":10,"l":15,"h":16.5,"v":0.03},{"g":5,"x":10.2,"l":15.3,"h":16.6,"v":0.03},{"g":5,"x":11,"l":15.6,"h":17,"v":0.03},
{"g":6,"x":1.2,"l":12.65,"h":12.85,"v":0.07},{"g":6,"x":1.35,"l":12.4,"h":14.1,"v":0.07},{"g":6,"x":1.9,"l":12.4,"h":14.7,"v":0.07},{"g":6,"x":2.3,"l":12.5,"h":15.35,"v":0.07},{"g":6,"x":3.6,"l":13,"h":15.6,"v":0.07},{"g":6,"x":4.2,"l":13.5,"h":15.65,"v":0.07},{"g":6,"x":5,"l":14.5,"h":15.7,"v":0.07},{"g":6,"x":5.9,"l":15,"h":15.6,"v":0.07},{"g":6,"x":6.9,"l":14.8,"h":15.3,"v":0.07},{"g":6,"x":7.8,"l":14.7,"h":15.4,"v":0.07},{"g":6,"x":8.9,"l":14.8,"h":16.1,"v":0.07},{"g":6,"x":10,"l":15,"h":16.3,"v":0.07},{"g":6,"x":10.1,"l":15.6,"h":16.35,"v":0.07},{"g":6,"x":11,"l":15.65,"h":16.7,"v":0.07},
{"g":7,"x":2,"l":12.85,"h":12.95,"v":0.15},{"g":7,"x":2.3,"l":12.7,"h":14.5,"v":0.15},{"g":7,"x":2.9,"l":12.75,"h":15,"v":0.15},{"g":7,"x":3.5,"l":13,"h":15.45,"v":0.15},{"g":7,"x":4.2,"l":13.9,"h":15.6,"v":0.15},{"g":7,"x":5,"l":14.7,"h":15.6,"v":0.15},{"g":7,"x":5.9,"l":15.35,"h":15.5,"v":0.15},{"g":7,"x":6.3,"l":15.45,"h":15.5,"v":0.15},
{"g":8,"x":7.8,"l":15,"h":15.05,"v":0.15},{"g":8,"x":9,"l":14.95,"h":15.6,"v":0.15},{"g":8,"x":9.3,"l":15.5,"h":16.05,"v":0.15},{"g":8,"x":10,"l":15.75,"h":16.1,"v":0.15},{"g":8,"x":11,"l":15.8,"h":16.3,"v":0.15},
{"g":9,"x":4.8,"l":15.6,"h":15.6,"v":0.25},{"g":9,"x":5,"l":15.55,"h":15.65,"v":0.25},{"g":9,"x":5.3,"l":15.6,"h":15.6,"v":0.25},
{"g":10,"x":0,"l":13.8,"h":14.7,"v":-0.03},{"g":10,"x":0.3,"l":14.2,"h":14.4,"v":-0.03},
{"g":11,"x":0,"l":8.85,"h":11.5,"v":-0.03},{"g":11,"x":2.1,"l":8.9,"h":11.5,"v":-0.03},{"g":11,"x":2.6,"l":8.9,"h":10.7,"v":-0.03},{"g":11,"x":3.1,"l":8.4,"h":10.6,"v":-0.03},{"g":11,"x":3.4,"l":6.7,"h":10.55,"v":-0.03},{"g":11,"x":3.6,"l":6.7,"h":10.55,"v":-0.03},{"g":11,"x":4.7,"l":6.9,"h":11.4,"v":-0.03},{"g":11,"x":5.4,"l":7,"h":12.05,"v":-0.03},{"g":11,"x":6,"l":7.1,"h":13,"v":-0.03},{"g":11,"x":7.2,"l":7.1,"h":13.9,"v":-0.03},{"g":11,"x":8.5,"l":6.9,"h":14.3,"v":-0.03},{"g":11,"x":9.7,"l":7.2,"h":14.7,"v":-0.03},{"g":11,"x":10,"l":8.2,"h":15,"v":-0.03},{"g":11,"x":11,"l":8.9,"h":15.5,"v":-0.03},
{"g":12,"x":2.1,"l":6.9,"h":7,"v":-0.03},{"g":12,"x":3,"l":6.8,"h":7.5,"v":-0.03},{"g":12,"x":3.6,"l":6.7,"h":8,"v":-0.03},
{"g":13,"x":9.2,"l":10.6,"h":10.65,"v":0},{"g":13,"x":10,"l":10,"h":11.2,"v":0},{"g":13,"x":11,"l":10,"h":11.3,"v":0},
{"g":14,"x":5.3,"l":10.4,"h":10.45,"v":0},{"g":14,"x":5.9,"l":10.2,"h":10.6,"v":0},{"g":14,"x":6.4,"l":10.35,"h":10.4,"v":0},
{"g":15,"x":3.4,"l":6.6,"h":6.7,"v":-0.03},{"g":15,"x":3.7,"l":5.6,"h":6.8,"v":-0.03},{"g":15,"x":4.4,"l":5.5,"h":7,"v":-0.03},{"g":15,"x":5.5,"l":6,"h":7,"v":-0.03},{"g":15,"x":7,"l":5.9,"h":7.1,"v":-0.03},{"g":15,"x":8.5,"l":6.1,"h":7.1,"v":-0.03},{"g":15,"x":9.8,"l":6.9,"h":7.1,"v":-0.03},
{"g":16,"x":1.4,"l":3.5,"h":3.6,"v":-0.03},{"g":16,"x":1.7,"l":3.1,"h":4.1,"v":-0.03},{"g":16,"x":2.3,"l":2.75,"h":4.45,"v":-0.03},{"g":16,"x":3,"l":2.5,"h":4.7,"v":-0.03},{"g":16,"x":3.6,"l":2.35,"h":5.1,"v":-0.03},{"g":16,"x":4.1,"l":2.6,"h":5.7,"v":-0.03},{"g":16,"x":4.5,"l":3,"h":5.7,"v":-0.03},{"g":16,"x":5,"l":3.1,"h":5.5,"v":-0.03},{"g":16,"x":5.5,"l":3.3,"h":4.9,"v":-0.03},{"g":16,"x":6,"l":4.5,"h":4.7,"v":-0.03},
{"g":17,"x":5.9,"l":2.5,"h":2.8,"v":-0.03},{"g":17,"x":6.8,"l":2.2,"h":3.85,"v":-0.03},{"g":17,"x":8,"l":2.35,"h":4,"v":-0.03},{"g":17,"x":8.9,"l":2.8,"h":4.2,"v":-0.03},{"g":17,"x":11,"l":2.7,"h":4.8,"v":-0.03},
{"g":18,"x":5.45,"l":0,"h":0.1,"v":-0.03},{"g":18,"x":5.6,"l":0,"h":1,"v":-0.03},{"g":18,"x":6.2,"l":0,"h":1.5,"v":-0.03},{"g":18,"x":6.9,"l":0,"h":2.2,"v":-0.03},{"g":18,"x":7.6,"l":0,"h":1,"v":-0.03},{"g":18,"x":7.7,"l":0.5,"h":0.9,"v":-0.03},
{"g":19,"x":6.2,"l":4.55,"h":4.65,"v":-0.03},{"g":19,"x":7.5,"l":4.4,"h":5.05,"v":-0.03},{"g":19,"x":8.3,"l":4.6,"h":5.1,"v":-0.03},
{"g":20,"x":3.3,"l":15.95,"h":16.1,"v":-0.03},{"g":20,"x":4.5,"l":16,"h":16.8,"v":-0.03},{"g":20,"x":6,"l":15.95,"h":17.2,"v":-0.03},{"g":20,"x":7.2,"l":16.1,"h":17.8,"v":-0.03},{"g":20,"x":8,"l":16.2,"h":18,"v":-0.03},{"g":20,"x":10,"l":16.35,"h":17.8,"v":-0.03},{"g":20,"x":10.7,"l":16.4,"h":17.2,"v":-0.03},{"g":20,"x":11,"l":16.4,"h":16.7,"v":-0.03},
{"g":21,"x":3.9,"l":16.1,"h":16.4,"v":-0.07},{"g":21,"x":5,"l":16,"h":16.8,"v":-0.07},{"g":21,"x":6.2,"l":16,"h":17,"v":-0.07},{"g":21,"x":7.2,"l":16.15,"h":17.7,"v":-0.07},{"g":21,"x":8.5,"l":16.3,"h":17.7,"v":-0.07},{"g":21,"x":9.8,"l":16.5,"h":17.45,"v":-0.07},{"g":21,"x":10.3,"l":16.8,"h":17.1,"v":-0.07},
{"g":22,"x":5.5,"l":16,"h":16.1,"v":-0.15},{"g":22,"x":6,"l":16,"h":16.5,"v":-0.15},{"g":22,"x":7.5,"l":16.2,"h":17.05,"v":-0.15},{"g":22,"x":8.5,"l":16.6,"h":17.1,"v":-0.15},{"g":22,"x":9.4,"l":16.8,"h":17,"v":-0.15},
{"g":23,"x":0,"l":16.8,"h":17.4,"v":-0.03},{"g":23,"x":1.4,"l":17,"h":17.7,"v":-0.03},{"g":23,"x":2.2,"l":17.2,"h":18,"v":-0.03},{"g":23,"x":3.2,"l":17.5,"h":18,"v":-0.03},{"g":23,"x":4,"l":17.8,"h":18,"v":-0.03},
{"g":24,"x":0,"l":17,"h":17.25,"v":-0.07},{"g":24,"x":1.2,"l":17.05,"h":17.2,"v":-0.07},{"g":24,"x":1.7,"l":17,"h":17.1,"v":-0.07},
{"g":25,"x":0,"l":16.55,"h":16.75,"v":0.07},{"g":25,"x":0.5,"l":16.6,"h":16.7,"v":0.07},
{"g":26,"x":0,"l":17.85,"h":18,"v":0.03},{"g":26,"x":0.6,"l":17.95,"h":18,"v":0.03},
{"g":27,"x":10.6,"l":17.95,"h":18,"v":0.03},{"g":27,"x":11,"l":17.95,"h":18,"v":0.03},
{"g":28,"x":3.8,"l":10.1,"h":10.2,"v":-0.07},{"g":28,"x":4.7,"l":9.6,"h":11,"v":-0.07},{"g":28,"x":5.5,"l":8.9,"h":12.1,"v":-0.07},{"g":28,"x":6.2,"l":7.1,"h":13.2,"v":-0.07},{"g":28,"x":7,"l":7.1,"h":13.6,"v":-0.07},{"g":28,"x":8.2,"l":7.1,"h":14,"v":-0.07},{"g":28,"x":8.9,"l":7.1,"h":11.1,"v":-0.07},{"g":28,"x":9.4,"l":7.1,"h":10,"v":-0.07},{"g":28,"x":9.5,"l":7.2,"h":8.6,"v":-0.07},{"g":28,"x":9.75,"l":7.6,"h":7.8,"v":-0.07},
{"g":29,"x":7,"l":12,"h":13.6,"v":-0.07},{"g":29,"x":8.9,"l":12,"h":14.1,"v":-0.07},{"g":29,"x":10,"l":12.6,"h":14.4,"v":-0.07},{"g":29,"x":11,"l":13.3,"h":14.7,"v":-0.07},
{"g":30,"x":9.95,"l":8.85,"h":9.4,"v":-0.07},{"g":30,"x":10.5,"l":8.9,"h":9.4,"v":-0.07},{"g":30,"x":11,"l":8.85,"h":9.6,"v":-0.07},
{"g":31,"x":3.05,"l":9.25,"h":9.3,"v":-0.07},{"g":31,"x":3.6,"l":6.9,"h":10,"v":-0.07},{"g":31,"x":4.3,"l":7,"h":10.2,"v":-0.07},{"g":31,"x":5.2,"l":7.1,"h":10,"v":-0.07},{"g":31,"x":6.2,"l":7.1,"h":9.8,"v":-0.07},
{"g":32,"x":2.1,"l":6.95,"h":7,"v":-0.07},{"g":32,"x":3,"l":6.8,"h":7.5,"v":-0.07},{"g":32,"x":3.6,"l":6.9,"h":8,"v":-0.07},
{"g":33,"x":0,"l":9.1,"h":9.7,"v":-0.07},{"g":33,"x":0.4,"l":9.3,"h":9.6,"v":-0.07},{"g":33,"x":0.75,"l":9.3,"h":9.35,"v":-0.07},
{"g":34,"x":3.85,"l":6,"h":6.6,"v":-0.07},{"g":34,"x":5,"l":6.1,"h":6.7,"v":-0.07},{"g":34,"x":5.6,"l":6.35,"h":6.4,"v":-0.07},
{"g":35,"x":6.2,"l":6.4,"h":6.5,"v":-0.07},{"g":35,"x":7.2,"l":6.25,"h":6.8,"v":-0.07},{"g":35,"x":8.2,"l":6.4,"h":6.5,"v":-0.07},
{"g":36,"x":6.2,"l":4.75,"h":5,"v":-0.07},{"g":36,"x":7,"l":4.65,"h":5.05,"v":-0.07},{"g":36,"x":8.2,"l":4.8,"h":5.1,"v":-0.07},
{"g":37,"x":2,"l":3.7,"h":3.8,"v":-0.07},{"g":37,"x":2.5,"l":3.1,"h":4.4,"v":-0.07},{"g":37,"x":3.4,"l":2.9,"h":4.8,"v":-0.07},{"g":37,"x":4,"l":3,"h":5.1,"v":-0.07},{"g":37,"x":4.8,"l":3.9,"h":5,"v":-0.07},{"g":37,"x":5.2,"l":4.7,"h":4.75,"v":-0.07},
{"g":38,"x":6.05,"l":2.55,"h":2.7,"v":-0.07},{"g":38,"x":6.8,"l":2.8,"h":3.1,"v":-0.07},{"g":38,"x":7.5,"l":2.65,"h":3,"v":-0.07},
{"g":39,"x":5.65,"l":0,"h":0.8,"v":-0.07},{"g":39,"x":6.3,"l":0,"h":1.15,"v":-0.07},{"g":39,"x":7.2,"l":0.7,"h":1.2,"v":-0.07},{"g":39,"x":7.5,"l":0.8,"h":1,"v":-0.07},
{"g":40,"x":4.55,"l":10.6,"h":10.7,"v":-0.15},{"g":40,"x":5.4,"l":10.6,"h":11.5,"v":-0.15},{"g":40,"x":5.8,"l":10.6,"h":12.6,"v":-0.15},{"g":40,"x":6.2,"l":10.7,"h":13,"v":-0.15},{"g":40,"x":7,"l":11,"h":13.2,"v":-0.15},{"g":40,"x":7.9,"l":11.2,"h":13.7,"v":-0.15},{"g":40,"x":9,"l":11.9,"h":14.2,"v":-0.15},{"g":40,"x":10,"l":12.7,"h":14.5,"v":-0.15},{"g":40,"x":11,"l":13.6,"h":14.7,"v":-0.15},
{"g":41,"x":3.5,"l":7.8,"h":7.95,"v":-0.15},{"g":41,"x":4.2,"l":7.8,"h":8.9,"v":-0.15},{"g":41,"x":5.2,"l":8.6,"h":9.4,"v":-0.15},{"g":41,"x":6.2,"l":9,"h":9.7,"v":-0.15},{"g":41,"x":7.4,"l":9.75,"h":10,"v":-0.15},
{"g":42,"x":7.8,"l":8.95,"h":9,"v":-0.15},{"g":42,"x":8.3,"l":8.9,"h":9.1,"v":-0.15},{"g":42,"x":8.4,"l":9,"h":9,"v":-0.15},
{"g":43,"x":7.25,"l":12.55,"h":12.7,"v":-0.25},{"g":43,"x":7.9,"l":12.45,"h":13,"v":-0.25},{"g":43,"x":9,"l":12.55,"h":13.7,"v":-0.25},{"g":43,"x":9.8,"l":13.1,"h":14.3,"v":-0.25},{"g":43,"x":10.1,"l":13.4,"h":14.4,"v":-0.25},{"g":43,"x":10.45,"l":13.9,"h":14.1,"v":-0.25},
{"g":44,"x":7.95,"l":12.75,"h":12.8,"v":-0.35},{"g":44,"x":8.8,"l":12.6,"h":13.2,"v":-0.35},{"g":44,"x":9.4,"l":12.75,"h":12.8,"v":-0.35},
{"g":45,"x":5.9,"l":11.45,"h":11.45,"v":-0.25},{"g":45,"x":6.05,"l":11.35,"h":11.5,"v":-0.25},{"g":45,"x":6.2,"l":11.45,"h":11.45,"v":-0.25},
{"g":46,"x":4.9,"l":8.9,"h":8.9,"v":-0.25},{"g":46,"x":5.1,"l":8.85,"h":8.95,"v":-0.25},
{"g":47,"x":5.9,"l":0,"h":0.45,"v":-0.15},{"g":47,"x":6.05,"l":0,"h":0.55,"v":-0.15},{"g":47,"x":6.2,"l":0,"h":0.1,"v":-0.15},
{"g":48,"x":6.4,"l":0.9,"h":0.95,"v":-0.15},{"g":48,"x":6.95,"l":0.8,"h":1.1,"v":-0.15},{"g":48,"x":7.3,"l":0.9,"h":0.95,"v":-0.15},
{"g":49,"x":2.6,"l":10.9,"h":11,"v":0.03},{"g":49,"x":3.5,"l":10.8,"h":11.5,"v":0.03},{"g":49,"x":4,"l":11,"h":11.9,"v":0.03},{"g":49,"x":4.3,"l":11.35,"h":11.65,"v":0.03},
{"g":50,"x":3.5,"l":11.2,"h":11.25,"v":0.07},{"g":50,"x":3.9,"l":11,"h":11.7,"v":0.07},{"g":50,"x":4.3,"l":11.35,"h":11.4,"v":0.07},
{"g":51,"x":0.6,"l":7.95,"h":8,"v":0.03},{"g":51,"x":0.8,"l":7.9,"h":8.4,"v":0.03},{"g":51,"x":2.05,"l":7.9,"h":8.4,"v":0.03},
{"g":52,"x":0.4,"l":6.95,"h":7,"v":0.03},{"g":52,"x":1,"l":6.9,"h":7,"v":0.03},
{"g":53,"x":0.5,"l":5.4,"h":5.6,"v":0.03},{"g":53,"x":1,"l":5.05,"h":6,"v":0.03},{"g":53,"x":2,"l":4.95,"h":6.1,"v":0.03},{"g":53,"x":2.6,"l":5.1,"h":6,"v":0.03},
{"g":54,"x":0.95,"l":5.5,"h":5.55,"v":0.07},{"g":54,"x":1.8,"l":5.1,"h":5.9,"v":0.07},{"g":54,"x":2.2,"l":5.55,"h":5.55,"v":0.07},
{"g":55,"x":0.45,"l":4.3,"h":4.4,"v":0.03},{"g":55,"x":0.8,"l":4.15,"h":4.7,"v":0.03},{"g":55,"x":1.5,"l":4.4,"h":4.55,"v":0.03},
{"g":56,"x":5.75,"l":8,"h":8.2,"v":0.03},{"g":56,"x":6,"l":7.9,"h":8.55,"v":0.03},{"g":56,"x":6.25,"l":8.1,"h":8.3,"v":0.03},
{"g":57,"x":5.4,"l":5.5,"h":5.5,"v":0.03},{"g":57,"x":6,"l":5.3,"h":5.7,"v":0.03},{"g":57,"x":6.8,"l":5.5,"h":5.5,"v":0.03},
{"g":58,"x":8.4,"l":5.9,"h":6,"v":0.03},{"g":58,"x":9,"l":5.65,"h":6.05,"v":0.03},{"g":58,"x":10,"l":5.95,"h":6.1,"v":0.03},
{"g":59,"x":9.8,"l":6.55,"h":6.75,"v":0.03},{"g":59,"x":10.4,"l":6.5,"h":7.1,"v":0.03},{"g":59,"x":11,"l":6.6,"h":7.3,"v":0.03},
{"g":60,"x":4.95,"l":4.35,"h":4.4,"v":0.03},{"g":60,"x":5.6,"l":4.35,"h":4.4,"v":0.03},
{"g":61,"x":7.7,"l":4.3,"h":4.35,"v":0.03},{"g":61,"x":9,"l":4.2,"h":4.8,"v":0.03},{"g":61,"x":9.5,"l":4.4,"h":4.5,"v":0.03},
{"g":62,"x":0,"l":0.95,"h":2.9,"v":0.03},{"g":62,"x":1,"l":0.9,"h":3.1,"v":0.03},{"g":62,"x":1.5,"l":1.35,"h":2.85,"v":0.03},{"g":62,"x":1.6,"l":1.5,"h":1.9,"v":0.03},
{"g":63,"x":3.35,"l":1.1,"h":1.5,"v":0.03},{"g":63,"x":4.1,"l":0.15,"h":2.9,"v":0.03},{"g":63,"x":5,"l":0.3,"h":3.2,"v":0.03},{"g":63,"x":5.7,"l":1,"h":2.6,"v":0.03},{"g":63,"x":5.85,"l":1.4,"h":1.6,"v":0.03},
{"g":64,"x":3.75,"l":2.35,"h":2.45,"v":0.07},{"g":64,"x":4.05,"l":1.05,"h":2.7,"v":0.07},{"g":64,"x":5,"l":1.2,"h":3.2,"v":0.07},{"g":64,"x":5.6,"l":1.5,"h":1.5,"v":0.07},
{"g":65,"x":3.5,"l":0,"h":0.1,"v":0.07},{"g":65,"x":4.2,"l":0,"h":0.3,"v":0.07},{"g":65,"x":5,"l":0,"h":0.2,"v":0.07},
{"g":66,"x":7.5,"l":0.3,"h":0.5,"v":0.03},{"g":66,"x":8,"l":0,"h":0.9,"v":0.03},{"g":66,"x":8.9,"l":0,"h":0.05,"v":0.03},
{"g":67,"x":7.8,"l":0.4,"h":0.45,"v":0.07},{"g":67,"x":8,"l":0.2,"h":0.6,"v":0.07},{"g":67,"x":8.3,"l":0.4,"h":0.45,"v":0.07},
{"g":68,"x":8.25,"l":0,"h":1.95,"v":0.03},{"g":68,"x":8.9,"l":0.1,"h":2.3,"v":0.03},{"g":68,"x":10,"l":1.2,"h":2.6,"v":0.03},{"g":68,"x":11,"l":1.7,"h":2.7,"v":0.03},
{"g":69,"x":8.6,"l":1.9,"h":1.95,"v":0.07},{"g":69,"x":8.9,"l":1.05,"h":2.35,"v":0.07},{"g":69,"x":10,"l":1.7,"h":2.55,"v":0.07},{"g":69,"x":10.3,"l":1.95,"h":2.2,"v":0.07}
],
"d":[
{"g":1,"x":0,"l":10.7,"h":14.55,"v":0.03},{"g":1,"x":0.6,"l":11.4,"h":14.7,"v":0.03},{"g":1,"x":1,"l":12,"h":14.6,"v":0.03},{"g":1,"x":1.35,"l":11.7,"h":15,"v":0.03},{"g":1,"x":1.68,"l":10.5,"h":15.3,"v":0.03},
{"g":2,"x":0,"l":3.95,"h":4.05,"v":0.03},{"g":2,"x":0.5,"l":3.9,"h":4.5,"v":0.03},{"g":2,"x":0.9,"l":3.9,"h":5.4,"v":0.03},{"g":2,"x":1.25,"l":3.9,"h":6.4,"v":0.03},{"g":2,"x":1.3,"l":3.9,"h":7.9,"v":0.03},{"g":2,"x":1.65,"l":3.9,"h":10.5,"v":0.03},{"g":2,"x":1.7,"l":3.9,"h":15.4,"v":0.03},{"g":2,"x":2.2,"l":3.9,"h":15.6,"v":0.03},{"g":2,"x":3,"l":4.1,"h":15.6,"v":0.03},{"g":2,"x":3.3,"l":4.6,"h":15.8,"v":0.03},{"g":2,"x":3.6,"l":5.7,"h":15.9,"v":0.03},{"g":2,"x":3.95,"l":7,"h":15.9,"v":0.03},{"g":2,"x":4.1,"l":7.6,"h":15.9,"v":0.03},{"g":2,"x":4.4,"l":9,"h":15.95,"v":0.03},{"g":2,"x":4.55,"l":10.8,"h":16,"v":0.03},{"g":2,"x":5.1,"l":12,"h":16.05,"v":0.03},{"g":2,"x":5.3,"l":12.6,"h":16,"v":0.03},{"g":2,"x":5.5,"l":13.7,"h":15.95,"v":0.03},{"g":2,"x":6,"l":14.4,"h":15.9,"v":0.03},{"g":2,"x":7,"l":14.6,"h":15.7,"v":0.03},{"g":2,"x":8,"l":14.5,"h":16.05,"v":0.03},{"g":2,"x":9,"l":14.8,"h":16.2,"v":0.03},{"g":2,"x":9.7,"l":15,"h":16.3,"v":0.03},{"g":2,"x":10,"l":15.5,"h":16.35,"v":0.03},{"g":2,"x":11,"l":15.7,"h":16.7,"v":0.03},
{"g":3,"x":0,"l":15.2,"h":16.7,"v":0.03},{"g":3,"x":1.6,"l":15.2,"h":16.8,"v":0.03},{"g":3,"x":2.1,"l":15.6,"h":17.4,"v":0.03},{"g":3,"x":2.6,"l":15.9,"h":18,"v":0.03},{"g":3,"x":3.3,"l":15.9,"h":18,"v":0.03},{"g":3,"x":3.6,"l":16.4,"h":18,"v":0.03},{"g":3,"x":4.5,"l":16.8,"h":18,"v":0.03},{"g":3,"x":5.6,"l":17,"h":18,"v":0.03},{"g":3,"x":6.3,"l":17.5,"h":18,"v":0.03},{"g":3,"x":6.8,"l":17.9,"h":18,"v":0.03},
{"g":4,"x":0,"l":15.25,"h":16.7,"v":0.07},{"g":4,"x":1.8,"l":15.2,"h":16.65,"v":0.07},{"g":4,"x":2.3,"l":15.7,"h":17.2,"v":0.07},{"g":4,"x":2.9,"l":15.9,"h":17.7,"v":0.07},{"g":4,"x":3.3,"l":16.1,"h":17.95,"v":0.07},{"g":4,"x":3.6,"l":16.55,"h":18,"v":0.07},{"g":4,"x":4.5,"l":16.9,"h":18,"v":0.07},{"g":4,"x":5.6,"l":17.2,"h":17.75,"v":0.07},{"g":4,"x":6.15,"l":17.5,"h":17.6,"v":0.07},
{"g":5,"x":0,"l":15.3,"h":16.6,"v":0.15},{"g":5,"x":1,"l":15.25,"h":16.65,"v":0.15},{"g":5,"x":1.7,"l":15.6,"h":16.6,"v":0.15},{"g":5,"x":2.3,"l":15.9,"h":16.9,"v":0.15},{"g":5,"x":2.9,"l":16.1,"h":17.4,"v":0.15},{"g":5,"x":3.5,"l":16.6,"h":17.6,"v":0.15},{"g":5,"x":4.2,"l":16.95,"h":17.45,"v":0.15},{"g":5,"x":4.8,"l":17.1,"h":17.2,"v":0.15},
{"g":6,"x":0.95,"l":16,"h":16,"v":0.07},{"g":6,"x":1,"l":15.9,"h":16.05,"v":0.07},{"g":6,"x":1.1,"l":16,"h":16,"v":0.07},
{"g":7,"x":1.9,"l":16.4,"h":16.45,"v":0.25},{"g":7,"x":2.1,"l":16.4,"h":16.55,"v":0.25},{"g":7,"x":2.3,"l":16.45,"h":16.45,"v":0.25},
{"g":8,"x":0.8,"l":14.3,"h":14.3,"v":0},{"g":8,"x":0.95,"l":14,"h":14.7,"v":0},{"g":8,"x":1.1,"l":14.2,"h":14.5,"v":0},
{"g":9,"x":0,"l":11.75,"h":14.15,"v":0.07},{"g":9,"x":0.45,"l":12.1,"h":13.8,"v":0.07},{"g":9,"x":0.65,"l":12.8,"h":13.2,"v":0.07},
{"g":10,"x":2.2,"l":7.45,"h":7.5,"v":0},{"g":10,"x":3,"l":7.2,"h":7.4,"v":0},{"g":10,"x":4,"l":6.85,"h":7.1,"v":0},
{"g":11,"x":1.2,"l":12.9,"h":13.2,"v":0.07},{"g":11,"x":1.5,"l":12.2,"h":14,"v":0.07},{"g":11,"x":1.85,"l":11.5,"h":14.6,"v":0.07},
{"g":12,"x":1.55,"l":7.7,"h":8.2,"v":0.07},{"g":12,"x":1.8,"l":7.6,"h":9.5,"v":0.07},{"g":12,"x":1.85,"l":7.6,"h":14.6,"v":0.07},{"g":12,"x":2.4,"l":7.6,"h":15.3,"v":0.07},{"g":12,"x":3,"l":7.7,"h":15.7,"v":0.07},{"g":12,"x":3.4,"l":7.8,"h":15.85,"v":0.07},{"g":12,"x":3.8,"l":8.5,"h":15.9,"v":0.07},{"g":12,"x":4.15,"l":9.2,"h":15.9,"v":0.07},{"g":12,"x":4.35,"l":10,"h":15.9,"v":0.07},{"g":12,"x":4.55,"l":11,"h":15.95,"v":0.07},{"g":12,"x":5.2,"l":12.2,"h":15.95,"v":0.07},{"g":12,"x":5.22,"l":13,"h":15.95,"v":0.07},{"g":12,"x":5.9,"l":14.5,"h":15.85,"v":0.07},{"g":12,"x":6.5,"l":15.2,"h":15.75,"v":0.07},{"g":12,"x":6.9,"l":15.3,"h":15.45,"v":0.07},{"g":12,"x":7.2,"l":15.2,"h":15.5,"v":0.07},{"g":12,"x":7.7,"l":14.8,"h":16.1,"v":0.07},{"g":12,"x":8.5,"l":14.8,"h":16.2,"v":0.07},{"g":12,"x":9,"l":15.05,"h":16.35,"v":0.07},{"g":12,"x":9.6,"l":15.05,"h":16.35,"v":0.07},{"g":12,"x":10.2,"l":15.6,"h":16.45,"v":0.07},{"g":12,"x":11,"l":15.7,"h":16.6,"v":0.07},
{"g":13,"x":4.7,"l":12.65,"h":12.65,"v":0.03},{"g":13,"x":4.9,"l":12.5,"h":13.3,"v":0.03},{"g":13,"x":5.22,"l":12.3,"h":13.05,"v":0.03},
{"g":14,"x":1.6,"l":12.6,"h":13.2,"v":0.15},{"g":14,"x":1.75,"l":12.15,"h":14.1,"v":0.15},{"g":14,"x":2.05,"l":11.9,"h":14.9,"v":0.15},{"g":14,"x":2.2,"l":11.15,"h":15.2,"v":0.15},{"g":14,"x":2.3,"l":9.4,"h":15.3,"v":0.15},{"g":14,"x":3,"l":9.1,"h":15.6,"v":0.15},{"g":14,"x":3.4,"l":9,"h":15.85,"v":0.15},{"g":14,"x":4,"l":9.5,"h":15.9,"v":0.15},{"g":14,"x":4.2,"l":9.9,"h":15.9,"v":0.15},{"g":14,"x":4.3,"l":11,"h":15.9,"v":0.15},{"g":14,"x":4.85,"l":12,"h":15.85,"v":0.15},{"g":14,"x":4.87,"l":13.7,"h":15.85,"v":0.15},{"g":14,"x":5.3,"l":14.1,"h":15.8,"v":0.15},{"g":14,"x":5.8,"l":15,"h":15.7,"v":0.15},{"g":14,"x":6.5,"l":15.35,"h":15.6,"v":0.15},{"g":14,"x":6.7,"l":15.5,"h":15.5,"v":0.15},
{"g":15,"x":3.9,"l":12.5,"h":12.5,"v":0.07},{"g":15,"x":4.5,"l":12.1,"h":13,"v":0.07},{"g":15,"x":4.85,"l":12.05,"h":13.4,"v":0.07},
{"g":16,"x":7.7,"l":15,"h":15.05,"v":0.15},{"g":16,"x":8.2,"l":14.8,"h":15.7,"v":0.15},{"g":16,"x":8.6,"l":14.8,"h":16.05,"v":0.15},{"g":16,"x":9.2,"l":15.05,"h":16.1,"v":0.15},{"g":16,"x":9.5,"l":15.5,"h":16.1,"v":0.15},{"g":16,"x":10,"l":15.75,"h":16.2,"v":0.15},{"g":16,"x":11,"l":15.8,"h":16.45,"v":0.15},
{"g":17,"x":2.1,"l":8,"h":8.05,"v":0.15},{"g":17,"x":2.9,"l":8,"h":8.8,"v":0.15},{"g":17,"x":3,"l":8,"h":9,"v":0.15},{"g":17,"x":3.2,"l":8.4,"h":8.6,"v":0.15},
{"g":18,"x":2.75,"l":14,"h":14.1,"v":0.25},{"g":18,"x":3.1,"l":13.4,"h":14.7,"v":0.25},{"g":18,"x":3.6,"l":13.6,"h":15,"v":0.25},{"g":18,"x":4.2,"l":14.3,"h":15.3,"v":0.25},{"g":18,"x":4.8,"l":15,"h":15.5,"v":0.25},{"g":18,"x":5.5,"l":15.5,"h":15.55,"v":0.25},
{"g":19,"x":2.55,"l":13,"h":13,"v":0.25},{"g":19,"x":3,"l":12.7,"h":13.4,"v":0.25},{"g":19,"x":3.55,"l":13,"h":13,"v":0.25},
{"g":20,"x":2.9,"l":10.9,"h":11,"v":0.25},{"g":20,"x":3.2,"l":10.7,"h":11.4,"v":0.25},{"g":20,"x":3.95,"l":11,"h":11.85,"v":0.25},{"g":20,"x":4.25,"l":11.4,"h":11.5,"v":0.25},
{"g":21,"x":1.35,"l":4.6,"h":5.3,"v":0.07},{"g":21,"x":1.65,"l":4.4,"h":6.15,"v":0.07},{"g":21,"x":2.75,"l":4.4,"h":6.9,"v":0.07},{"g":21,"x":3.15,"l":4.7,"h":6.3,"v":0.07},{"g":21,"x":3.25,"l":5.2,"h":5.6,"v":0.07},
{"g":22,"x":3,"l":6.7,"h":6.85,"v":0.07},{"g":22,"x":3.95,"l":6.95,"h":7,"v":0.07},
{"g":23,"x":1.8,"l":5.5,"h":5.5,"v":0.15},{"g":23,"x":2,"l":5.1,"h":5.95,"v":0.15},{"g":23,"x":2.5,"l":5.5,"h":5.5,"v":0.15},
{"g":24,"x":0,"l":2.7,"h":3.9,"v":0.03},{"g":24,"x":1.2,"l":2.6,"h":3.4,"v":0.03},{"g":24,"x":2.1,"l":2.85,"h":3.1,"v":0.03},
{"g":25,"x":0.25,"l":3,"h":3,"v":0.07},{"g":25,"x":1,"l":2.8,"h":3.25,"v":0.07},{"g":25,"x":1.5,"l":3,"h":3,"v":0.07},
{"g":26,"x":0,"l":0.85,"h":1.15,"v":0.03},{"g":26,"x":0.9,"l":0.75,"h":1.4,"v":0.03},{"g":26,"x":1,"l":0,"h":1.45,"v":0.03},{"g":26,"x":1.5,"l":0,"h":1.9,"v":0.03},{"g":26,"x":2,"l":0,"h":2.1,"v":0.03},{"g":26,"x":3,"l":0,"h":1.6,"v":0.03},{"g":26,"x":3.4,"l":0,"h":1.9,"v":0.03},{"g":26,"x":3.9,"l":0,"h":2.4,"v":0.03},{"g":26,"x":4.6,"l":0,"h":3.1,"v":0.03},{"g":26,"x":5,"l":0,"h":3.2,"v":0.03},{"g":26,"x":5.4,"l":0.9,"h":2.9,"v":0.03},{"g":26,"x":5.6,"l":1.6,"h":2.2,"v":0.03},
{"g":27,"x":1.65,"l":0.9,"h":0.9,"v":0},{"g":27,"x":2.5,"l":0.55,"h":1.05,"v":0},{"g":27,"x":3.2,"l":0.9,"h":0.95,"v":0},
{"g":28,"x":3.2,"l":0.5,"h":0.5,"v":0},{"g":28,"x":4,"l":0.15,"h":0.8,"v":0},{"g":28,"x":4.8,"l":0.5,"h":0.5,"v":0},
{"g":29,"x":3.95,"l":2.4,"h":2.5,"v":0.07},{"g":29,"x":4.4,"l":2.3,"h":2.85,"v":0.07},{"g":29,"x":4.8,"l":1.7,"h":3.2,"v":0.07},{"g":29,"x":5,"l":1.2,"h":3.1,"v":0.07},{"g":29,"x":5.3,"l":1.5,"h":2.7,"v":0.07},{"g":29,"x":5.5,"l":2.9,"h":2.9,"v":0.07},
{"g":30,"x":1.6,"l":0,"h":0,"v":0.07},{"g":30,"x":2,"l":0,"h":0.15,"v":0.07},{"g":30,"x":2.4,"l":0,"h":0,"v":0.07},
{"g":31,"x":7.85,"l":0.1,"h":0.2,"v":0.03},{"g":31,"x":8,"l":0.05,"h":1.2,"v":0.03},{"g":31,"x":8.2,"l":0.1,"h":2,"v":0.03},{"g":31,"x":9,"l":0.4,"h":2.2,"v":0.03},{"g":31,"x":10,"l":1.1,"h":2.6,"v":0.03},{"g":31,"x":10.15,"l":1.8,"h":2.4,"v":0.03},
{"g":32,"x":10.2,"l":2.45,"h":2.5,"v":0.03},{"g":32,"x":11,"l":2.8,"h":2.95,"v":0.03},
{"g":33,"x":7.9,"l":0.1,"h":0.3,"v":0.07},{"g":33,"x":8.2,"l":0.1,"h":1,"v":0.07},{"g":33,"x":9,"l":0.65,"h":1.25,"v":0.07},{"g":33,"x":9.2,"l":0.9,"h":1.15,"v":0.07},
{"g":34,"x":8.65,"l":1.9,"h":1.95,"v":0.07},{"g":34,"x":9,"l":1.5,"h":2.1,"v":0.07},{"g":34,"x":9.3,"l":1.9,"h":1.95,"v":0.07},
{"g":35,"x":10,"l":10.8,"h":10.9,"v":0.03},{"g":35,"x":10.4,"l":11.05,"h":11.7,"v":0.03},{"g":35,"x":11,"l":10.9,"h":12.9,"v":0.03},
{"g":36,"x":10.25,"l":11.75,"h":11.85,"v":0.07},{"g":36,"x":11,"l":11.5,"h":12.6,"v":0.07},
{"g":37,"x":10.6,"l":16.8,"h":16.9,"v":0.03},{"g":37,"x":11,"l":16.8,"h":17.4,"v":0.03},
{"g":38,"x":10.05,"l":6.4,"h":6.8,"v":0.03},{"g":38,"x":10.4,"l":6.4,"h":7.1,"v":0.03},{"g":38,"x":11,"l":6.3,"h":7.1,"v":0.03},
{"g":39,"x":7.9,"l":4.35,"h":4.4,"v":0.03},{"g":39,"x":8.2,"l":4.35,"h":4.45,"v":0.03},
{"g":40,"x":10.8,"l":17.9,"h":18,"v":0.03},{"g":40,"x":11,"l":17.8,"h":18,"v":0.03},
{"g":41,"x":2.1,"l":3.4,"h":3.85,"v":-0.03},{"g":41,"x":2.6,"l":3,"h":3.9,"v":-0.03},{"g":41,"x":3,"l":2.6,"h":3.95,"v":-0.03},{"g":41,"x":3.4,"l":2.5,"h":4.7,"v":-0.03},{"g":41,"x":3.7,"l":2.6,"h":5.5,"v":-0.03},{"g":41,"x":4.1,"l":2.7,"h":6.8,"v":-0.03},{"g":41,"x":4.2,"l":3,"h":8,"v":-0.03},{"g":41,"x":4.5,"l":3.3,"h":9.6,"v":-0.03},{"g":41,"x":4.7,"l":3.4,"h":11,"v":-0.03},{"g":41,"x":5.3,"l":3.45,"h":11.9,"v":-0.03},{"g":41,"x":5.6,"l":3.45,"h":12.9,"v":-0.03},{"g":41,"x":6,"l":3.5,"h":13.5,"v":-0.03},{"g":41,"x":7,"l":3.9,"h":13.9,"v":-0.03},{"g":41,"x":8,"l":4.1,"h":14.2,"v":-0.03},{"g":41,"x":8.6,"l":4.4,"h":14.5,"v":-0.03},
{"g":42,"x":8.55,"l":4.4,"h":11.3,"v":-0.03},{"g":42,"x":8.8,"l":4.4,"h":10.5,"v":-0.03},{"g":42,"x":9,"l":4.4,"h":9.05,"v":-0.03},{"g":42,"x":9.5,"l":4.4,"h":8.7,"v":-0.03},{"g":42,"x":9.6,"l":4.5,"h":7,"v":-0.03},{"g":42,"x":10,"l":4.5,"h":5.4,"v":-0.03},{"g":42,"x":10.3,"l":4.7,"h":5,"v":-0.03},
{"g":43,"x":8.5,"l":11.8,"h":14.5,"v":-0.03},{"g":43,"x":9.5,"l":12.3,"h":14.9,"v":-0.03},{"g":43,"x":10.5,"l":12.9,"h":15.3,"v":-0.03},{"g":43,"x":11,"l":13.5,"h":15.6,"v":-0.03},
{"g":44,"x":8.8,"l":3,"h":4.4,"v":-0.03},{"g":44,"x":9.5,"l":2.75,"h":4.6,"v":-0.03},{"g":44,"x":11,"l":2.65,"h":5,"v":-0.03},
{"g":45,"x":0.2,"l":9.8,"h":10,"v":-0.03},{"g":45,"x":0.7,"l":9,"h":11,"v":-0.03},{"g":45,"x":1,"l":8.9,"h":11.6,"v":-0.03},{"g":45,"x":1.4,"l":9.7,"h":11.1,"v":-0.03},{"g":45,"x":1.5,"l":10.3,"h":10.7,"v":-0.03},
{"g":46,"x":0.3,"l":9.35,"h":9.5,"v":-0.07},{"g":46,"x":1,"l":9,"h":11.5,"v":-0.07},{"g":46,"x":1.1,"l":9.2,"h":11.3,"v":-0.07},{"g":46,"x":1.3,"l":9.3,"h":9.9,"v":-0.07},
{"g":47,"x":0.1,"l":17,"h":17,"v":-0.03},{"g":47,"x":1,"l":16.8,"h":17.7,"v":-0.03},{"g":47,"x":1.9,"l":16.9,"h":17,"v":-0.03},
{"g":48,"x":0.5,"l":17,"h":17,"v":-0.07},{"g":48,"x":1,"l":16.9,"h":17.2,"v":-0.07},{"g":48,"x":1.5,"l":17,"h":17,"v":-0.07},
{"g":49,"x":0,"l":5,"h":6,"v":-0.03},{"g":49,"x":0.6,"l":5.5,"h":5.8,"v":-0.03},
{"g":50,"x":0,"l":0.3,"h":0.45,"v":-0.03},{"g":50,"x":0.4,"l":0.35,"h":0.4,"v":-0.03},
{"g":51,"x":5.2,"l":15.95,"h":16.05,"v":-0.03},{"g":51,"x":5.6,"l":15.95,"h":16.5,"v":-0.03},{"g":51,"x":6.4,"l":16,"h":17,"v":-0.03},{"g":51,"x":6.9,"l":16.1,"h":17.5,"v":-0.03},{"g":51,"x":7.8,"l":16.2,"h":17.8,"v":-0.03},{"g":51,"x":10,"l":16.55,"h":18,"v":-0.03},{"g":51,"x":10.7,"l":16.55,"h":17.1,"v":-0.03},{"g":51,"x":11,"l":16.6,"h":16.6,"v":-0.03},
{"g":52,"x":5.5,"l":16,"h":16.2,"v":-0.07},{"g":52,"x":6.5,"l":16.05,"h":16.85,"v":-0.07},{"g":52,"x":7.3,"l":16.25,"h":17.3,"v":-0.07},{"g":52,"x":8,"l":16.35,"h":17.75,"v":-0.07},{"g":52,"x":10.2,"l":16.55,"h":17.9,"v":-0.07},{"g":52,"x":10.7,"l":16.55,"h":17.2,"v":-0.07},
{"g":53,"x":6.2,"l":16.35,"h":16.5,"v":-0.15},{"g":53,"x":6.5,"l":16.3,"h":16.7,"v":-0.15},{"g":53,"x":7,"l":16.35,"h":16.9,"v":-0.15},{"g":53,"x":7.6,"l":16.6,"h":16.65,"v":-0.15},
{"g":54,"x":8.7,"l":16.45,"h":16.5,"v":-0.15},{"g":54,"x":9.3,"l":16.4,"h":16.6,"v":-0.15},{"g":54,"x":9.9,"l":16.5,"h":16.5,"v":-0.15},
{"g":55,"x":9.2,"l":17.65,"h":17.7,"v":-0.15},{"g":55,"x":10,"l":17.55,"h":17.9,"v":-0.15},{"g":55,"x":10.4,"l":17.7,"h":17.7,"v":-0.15},
{"g":56,"x":2.6,"l":2.85,"h":3.8,"v":-0.07},{"g":56,"x":3.3,"l":2.75,"h":3.9,"v":-0.07},{"g":56,"x":3.6,"l":2.8,"h":4.45,"v":-0.07},{"g":56,"x":3.9,"l":2.85,"h":5.2,"v":-0.07},{"g":56,"x":4.3,"l":3.9,"h":6.3,"v":-0.07},{"g":56,"x":4.5,"l":3.9,"h":9,"v":-0.07},{"g":56,"x":4.9,"l":3.9,"h":10.7,"v":-0.07},{"g":56,"x":5.5,"l":3.9,"h":11.6,"v":-0.07},{"g":56,"x":5.8,"l":3.9,"h":13,"v":-0.07},{"g":56,"x":6,"l":3.9,"h":13.2,"v":-0.07},{"g":56,"x":7,"l":4.1,"h":13.6,"v":-0.07},{"g":56,"x":8,"l":4.6,"h":13.7,"v":-0.07},{"g":56,"x":8.3,"l":4.6,"h":13.8,"v":-0.07},{"g":56,"x":8.4,"l":4.65,"h":11.7,"v":-0.07},{"g":56,"x":8.9,"l":4.85,"h":9.1,"v":-0.07},{"g":56,"x":9.35,"l":5.3,"h":7.1,"v":-0.07},
{"g":57,"x":4.05,"l":8,"h":8.4,"v":-0.07},{"g":57,"x":4.5,"l":7.2,"h":9.7,"v":-0.07},
{"g":58,"x":8.3,"l":12.05,"h":13.9,"v":-0.07},{"g":58,"x":9.5,"l":12.4,"h":14.2,"v":-0.07},{"g":58,"x":10.7,"l":13,"h":14.6,"v":-0.07},{"g":58,"x":11,"l":13.3,"h":14.7,"v":-0.07},
{"g":59,"x":3.8,"l":4.4,"h":4.5,"v":-0.15},{"g":59,"x":4.2,"l":4.25,"h":5.7,"v":-0.15},{"g":59,"x":4.5,"l":4.25,"h":6.8,"v":-0.15},{"g":59,"x":4.75,"l":4.3,"h":7.5,"v":-0.15},{"g":59,"x":4.8,"l":4.3,"h":10.6,"v":-0.15},{"g":59,"x":5.2,"l":4.35,"h":11.3,"v":-0.15},{"g":59,"x":5.7,"l":4.6,"h":11.8,"v":-0.15},{"g":59,"x":6,"l":5.4,"h":11.9,"v":-0.15},{"g":59,"x":6.3,"l":6,"h":11.95,"v":-0.15},{"g":59,"x":7,"l":6.2,"h":11.95,"v":-0.15},{"g":59,"x":7.8,"l":6.2,"h":11.9,"v":-0.15},{"g":59,"x":8,"l":6.5,"h":11.6,"v":-0.15},{"g":59,"x":8.3,"l":7.3,"h":10.8,"v":-0.15},{"g":59,"x":8.65,"l":8,"h":9.2,"v":-0.15},{"g":59,"x":8.75,"l":8.6,"h":8.9,"v":-0.15},
{"g":60,"x":4.3,"l":8,"h":8.2,"v":-0.15},{"g":60,"x":4.7,"l":7.5,"h":9.2,"v":-0.15},{"g":60,"x":4.8,"l":7.5,"h":10,"v":-0.15},
{"g":61,"x":6.4,"l":4.85,"h":4.95,"v":-0.15},{"g":61,"x":7,"l":4.65,"h":5.25,"v":-0.15},{"g":61,"x":7.6,"l":4.9,"h":5.05,"v":-0.15},
{"g":62,"x":5.9,"l":11.95,"h":12.5,"v":-0.15},{"g":62,"x":6,"l":11.95,"h":13.1,"v":-0.15},{"g":62,"x":6.8,"l":12.2,"h":13.45,"v":-0.15},{"g":62,"x":8,"l":12.2,"h":13.6,"v":-0.15},{"g":62,"x":9,"l":12.4,"h":13.85,"v":-0.15},{"g":62,"x":9.8,"l":12.8,"h":14.45,"v":-0.15},{"g":62,"x":10.5,"l":13.6,"h":14.5,"v":-0.15},{"g":62,"x":11,"l":13.9,"h":14.55,"v":-0.15},
{"g":63,"x":7.1,"l":12.6,"h":12.85,"v":-0.25},{"g":63,"x":8,"l":12.4,"h":13.2,"v":-0.25},{"g":63,"x":9,"l":12.55,"h":13.5,"v":-0.25},{"g":63,"x":9.8,"l":12.95,"h":13.4,"v":-0.25},
{"g":64,"x":9.3,"l":13.9,"h":14,"v":-0.25},{"g":64,"x":10,"l":13.5,"h":14.45,"v":-0.25},{"g":64,"x":10.5,"l":14,"h":14.1,"v":-0.25},
{"g":65,"x":4.7,"l":8.9,"h":9.2,"v":-0.25},{"g":65,"x":5,"l":8,"h":9.6,"v":-0.25},{"g":65,"x":5.3,"l":8,"h":9.8,"v":-0.25},{"g":65,"x":5.5,"l":8.75,"h":10,"v":-0.25},{"g":65,"x":6.2,"l":9,"h":10.3,"v":-0.25},{"g":65,"x":7.3,"l":9.3,"h":10.1,"v":-0.25},{"g":65,"x":7.6,"l":9.4,"h":9.5,"v":-0.25},
{"g":66,"x":5.9,"l":11.3,"h":11.4,"v":-0.25},{"g":66,"x":6.05,"l":11,"h":11.6,"v":-0.25},{"g":66,"x":6.5,"l":11.4,"h":11.4,"v":-0.25},
{"g":67,"x":8.1,"l":12.75,"h":12.8,"v":-0.35},{"g":67,"x":8.9,"l":12.65,"h":13.05,"v":-0.35},{"g":67,"x":9.4,"l":12.75,"h":12.8,"v":-0.35},
{"g":68,"x":5.45,"l":0,"h":0.1,"v":-0.03},{"g":68,"x":5.6,"l":0,"h":1.2,"v":-0.03},{"g":68,"x":5.9,"l":0,"h":2.4,"v":-0.03},{"g":68,"x":6.5,"l":0,"h":2.8,"v":-0.03},{"g":68,"x":7,"l":0,"h":3.2,"v":-0.03},{"g":68,"x":7.6,"l":0,"h":2.4,"v":-0.03},{"g":68,"x":7.7,"l":0.8,"h":2.2,"v":-0.03},
{"g":69,"x":6.1,"l":0,"h":1.4,"v":-0.07},{"g":69,"x":6.4,"l":0,"h":2,"v":-0.07},{"g":69,"x":7,"l":0,"h":3.1,"v":-0.07},{"g":69,"x":7.5,"l":0,"h":2,"v":-0.07},
{"g":70,"x":5.8,"l":0,"h":0.4,"v":-0.15},{"g":70,"x":6.4,"l":0,"h":1,"v":-0.15},{"g":70,"x":7,"l":0,"h":1.15,"v":-0.15},{"g":70,"x":7.2,"l":0.5,"h":1,"v":-0.15},
{"g":71,"x":9.5,"l":0.1,"h":0.2,"v":-0.03},{"g":71,"x":10.5,"l":0.05,"h":0.65,"v":-0.03},{"g":71,"x":11,"l":0.1,"h":0.5,"v":-0.03},
{"g":72,"x":10.5,"l":1.4,"h":1.5,"v":-0.03},{"g":72,"x":11,"l":1.3,"h":1.9,"v":-0.03}
],
"ha":[
{"x":2.34,"y":13,"x2":2.6,"y2":15},{"x":2.6,"y":12.9,"x2":2.91,"y2":15.3},{"x":2.9,"y":12.8,"x2":3.25,"y2":15.5},{"x":3.18,"y":12.9,"x2":3.53,"y2":15.7},{"x":3.47,"y":12.9,"x2":3.84,"y2":15.8},{"x":3.76,"y":12.9,"x2":4.13,"y2":15.8},{"x":4.06,"y":12.9,"x2":4.43,"y2":15.8},{"x":4.38,"y":13.45,"x2":4.68,"y2":15.8},{"x":4.71,"y":13.9,"x2":4.94,"y2":15.7},{"x":5.04,"y":14.1,"x2":5.23,"y2":15.6},{"x":5.35,"y":14.35,"x2":5.5,"y2":15.5},{"x":5.65,"y":14.8,"x2":5.74,"y2":15.5},{"x":5.97,"y":15.1,"x2":6.15,"y2":16.5},{"x":6.28,"y":15.1,"x2":6.33,"y2":15.5},{"x":6.56,"y":15.05,"x2":6.6,"y2":15.4},{"x":6.83,"y":14.9,"x2":6.88,"y2":15.3},{"x":7.12,"y":14.9,"x2":7.17,"y2":15.3},{"x":7.43,"y":14.9,"x2":7.48,"y2":15.3},{"x":7.7,"y":14.85,"x2":7.77,"y2":15.4},{"x":8.03,"y":14.7,"x2":8.16,"y2":15.75},{"x":8.33,"y":14.7,"x2":8.47,"y2":15.8},{"x":8.65,"y":14.8,"x2":8.78,"y2":15.8},{"x":8.9,"y":14.8,"x2":9.02,"y2":15.75},{"x":9.2,"y":14.8,"x2":9.31,"y2":15.65},{"x":9.37,"y":14.7,"x2":9.41,"y2":15},{"x":9.63,"y":14.6,"x2":9.66,"y2":14.85},
{"x":6.44,"y":16.1,"x2":6.5,"y2":16.6},{"x":6.7,"y":16.1,"x2":6.8,"y2":16.9},{"x":7,"y":16.2,"x2":7.1,"y2":17},{"x":7.32,"y":16.3,"x2":7.41,"y2":17},{"x":7.58,"y":16.4,"x2":7.66,"y2":17},{"x":7.92,"y":16.85,"x2":7.94,"y2":17},
{"x":2.52,"y":16.9,"x2":2.56,"y2":17.25},{"x":2.79,"y":16.65,"x2":2.91,"y2":17.65},{"x":3.07,"y":16.55,"x2":3.22,"y2":17.7},{"x":3.35,"y":16.65,"x2":3.51,"y2":17.85},{"x":3.65,"y":16.65,"x2":3.82,"y2":17.95},{"x":3.94,"y":16.8,"x2":4.09,"y2":17.95},{"x":4.22,"y":17.1,"x2":4.34,"y2":17.95},{"x":4.51,"y":17,"x2":4.61,"y2":17.75},{"x":4.84,"y":17.25,"x2":4.9,"y2":17.7},{"x":5.15,"y":17.4,"x2":5.18,"y2":17.6},{"x":5.46,"y":17.45,"x2":5.47,"y2":17.55},{"x":8.03,"y":17.8,"x2":8.05,"y2":18},
{"x":0.55,"y":16.95,"x2":0.56,"y2":17.05},{"x":0.81,"y":16.9,"x2":0.84,"y2":17.1},{"x":1.1,"y":16.85,"x2":1.14,"y2":17.15},{"x":1.41,"y":16.95,"x2":1.42,"y2":17.05},
{"x":2.82,"y":10,"x2":3.02,"y2":11.6},{"x":2.91,"y":8.4,"x2":3.31,"y2":11.5},{"x":3.25,"y":8.85,"x2":3.63,"y2":11.85},{"x":3.78,"y":10.9,"x2":3.91,"y2":11.95},{"x":4.09,"y":11.15,"x2":4.17,"y2":11.8},{"x":2.65,"y":11,"x2":2.66,"y2":11.1},{"x":2.94,"y":6.4,"x2":2.96,"y2":6.55},
{"x":4.66,"y":8.6,"x2":4.74,"y2":9.2},{"x":5.02,"y":7.9,"x2":5.2,"y2":9.3},{"x":4.31,"y":5.95,"x2":4.33,"y2":6.15},{"x":4.38,"y":4.2,"x2":4.75,"y2":7.1},{"x":4.68,"y":4.5,"x2":5.2,"y2":8.6},{"x":4.97,"y":4.5,"x2":5.42,"y2":8},{"x":5.28,"y":4.5,"x2":5.88,"y2":9.3},{"x":5.55,"y":4.5,"x2":6.21,"y2":9.75},{"x":5.81,"y":4.5,"x2":6.53,"y2":10},{"x":6.12,"y":4.4,"x2":6.85,"y2":10.1},{"x":6.39,"y":4.5,"x2":7.13,"y2":10.35},{"x":6.65,"y":4.2,"x2":7.42,"y2":10.2},{"x":6.92,"y":4,"x2":7.7,"y2":10.1},{"x":7.31,"y":4.95,"x2":7.88,"y2":9.4},{"x":7.4,"y":5.6,"x2":7.87,"y2":9.3},{"x":7.67,"y":6.3,"x2":8.03,"y2":9.1},{"x":8.03,"y":6.3,"x2":8.24,"y2":7.9},{"x":8.35,"y":6.45,"x2":8.47,"y2":7.35},{"x":7.58,"y":4.9,"x2":7.62,"y2":5.2},
{"x":2.76,"y":2.85,"x2":2.82,"y2":3.3},{"x":3.07,"y":2.75,"x2":3.23,"y2":4},{"x":3.34,"y":2.75,"x2":3.54,"y2":4.35},{"x":3.63,"y":2.75,"x2":3.92,"y2":5.05},{"x":3.91,"y":2.7,"x2":4.24,"y2":5.3},{"x":2.52,"y":2.9,"x2":2.54,"y2":3.05},{"x":4.2,"y":2.65,"x2":4.3,"y2":3.45},{"x":4.49,"y":2.6,"x2":4.57,"y2":3.2},{"x":4.78,"y":2.75,"x2":4.85,"y2":3.3},{"x":5.06,"y":2.5,"x2":5.12,"y2":3},{"x":5.33,"y":2.5,"x2":5.39,"y2":3},{"x":5.6,"y":2.4,"x2":5.66,"y2":2.85},{"x":5.86,"y":2.3,"x2":5.9,"y2":2.6},{"x":6.12,"y":2.2,"x2":6.18,"y2":2.65},
{"x":5.3,"y":0.1,"x2":5.42,"y2":1},{"x":5.57,"y":0.1,"x2":5.71,"y2":1.15},{"x":5.86,"y":0.1,"x2":6.06,"y2":1.7},{"x":6.12,"y":0.1,"x2":6.35,"y2":1.95},{"x":6.43,"y":0.1,"x2":6.72,"y2":2.4},{"x":6.7,"y":0.1,"x2":7.06,"y2":2.9},{"x":7,"y":0.1,"x2":7.4,"y2":3.2},{"x":7.27,"y":0.1,"x2":7.61,"y2":2.85},{"x":7.57,"y":0.1,"x2":7.73,"y2":1.35},{"x":7.85,"y":2.4,"x2":7.86,"y2":2.5},{"x":7.85,"y":0.1,"x2":7.96,"y2":1},{"x":8.16,"y":0.35,"x2":8.24,"y2":1},{"x":8.47,"y":0.55,"x2":8.55,"y2":1.15},{"x":8.78,"y":0.8,"x2":8.84,"y2":1.25},{"x":9.07,"y":0.85,"x2":9.11,"y2":1.15},{"x":9.12,"y":1.95,"x2":9.13,"y2":2.05},
{"x":0.55,"y":2.9,"x2":0.56,"y2":3},{"x":0.81,"y":2.85,"x2":0.84,"y2":3.1},{"x":1.08,"y":2.85,"x2":1.12,"y2":3.15},{"x":1.4,"y":2.9,"x2":1.42,"y2":3.05},{"x":1.68,"y":3,"x2":1.69,"y2":3.05},
{"x":6.55,"y":12.5,"x2":6.63,"y2":13.1},{"x":6.8,"y":12.25,"x2":6.93,"y2":13.25},{"x":7.1,"y":12.25,"x2":7.23,"y2":13.25},{"x":7.36,"y":12.3,"x2":7.49,"y2":13.35},{"x":7.67,"y":12.3,"x2":7.81,"y2":13.4},{"x":7.96,"y":12.25,"x2":8.11,"y2":13.45},{"x":8.25,"y":12.35,"x2":8.42,"y2":13.7},{"x":8.51,"y":12.5,"x2":8.7,"y2":14},{"x":8.82,"y":12.5,"x2":9.01,"y2":14},{"x":9.1,"y":12.55,"x2":9.34,"y2":14.4},{"x":9.4,"y":12.65,"x2":9.64,"y2":14.5},{"x":9.7,"y":13,"x2":9.89,"y2":14.55},{"x":10.08,"y":13.65,"x2":10.19,"y2":14.5},{"x":10.4,"y":13.9,"x2":10.46,"y2":14.4},{"x":10.75,"y":14.35,"x2":10.77,"y2":14.5},
{"x":5.86,"y":10.9,"x2":5.96,"y2":11.7},{"x":6.12,"y":10.95,"x2":6.24,"y2":11.85},{"x":6.36,"y":10.9,"x2":6.45,"y2":11.6},{"x":6.65,"y":11,"x2":6.73,"y2":11.6},{"x":6.96,"y":11.2,"x2":7,"y2":11.5}
],
"hb":[
{"x":2.9,"y":11.5,"x2":3.14,"y2":13.4},{"x":2.95,"y":9.55,"x2":3.61,"y2":14.75},{"x":3.12,"y":8.75,"x2":3.96,"y2":15.5},{"x":3.57,"y":10,"x2":4.22,"y2":15.15},{"x":3.87,"y":10.1,"x2":4.42,"y2":14.5},
{"x":4.72,"y":5.5,"x2":4.99,"y2":7.65},{"x":4.95,"y":5.15,"x2":5.3,"y2":7.9},{"x":5.23,"y":5.05,"x2":5.63,"y2":8.3},{"x":5.52,"y":5.15,"x2":5.95,"y2":8.7},{"x":5.8,"y":5.15,"x2":6.23,"y2":8.6},{"x":6.1,"y":5.15,"x2":6.24,"y2":6.3},{"x":6.28,"y":6.6,"x2":6.51,"y2":8.4},{"x":6.41,"y":5.35,"x2":6.5,"y2":6.1},{"x":6.58,"y":6.8,"x2":6.65,"y2":7.35},{"x":6.69,"y":7.8,"x2":6.73,"y2":8.15},{"x":6.87,"y":6.85,"x2":6.9,"y2":7.1},{"x":7.17,"y":7,"x2":7.18,"y2":7.05},{"x":6.7,"y":5.5,"x2":6.71,"y2":5.55},
{"x":5.16,"y":4.45,"x2":5.17,"y2":4.55},{"x":5.45,"y":4.5,"x2":5.46,"y2":4.6},{"x":5.74,"y":4.5,"x2":5.75,"y2":4.6},{"x":6.03,"y":4.45,"x2":6.05,"y2":4.6},
{"x":6.78,"y":1.4,"x2":6.86,"y2":2},{"x":7.04,"y":1.2,"x2":7.15,"y2":2.05},{"x":7.3,"y":1.1,"x2":7.38,"y2":1.7},{"x":7.5,"y":0.45,"x2":7.62,"y2":1.4},{"x":7.82,"y":0.6,"x2":7.9,"y2":1.25},{"x":8.12,"y":0.8,"x2":8.16,"y2":1.1},{"x":8.4,"y":0.9,"x2":8.41,"y2":1},{"x":6.89,"y":0.05,"x2":6.97,"y2":0.7},{"x":7.18,"y":0.05,"x2":7.28,"y2":0.85},{"x":8.08,"y":2.75,"x2":8.12,"y2":3.05}
],
"hc":[
{"x":0.11,"y":16.44,"x2":0.19,"y2":17.17},{"x":0.37,"y":16.44,"x2":0.46,"y2":17.17},{"x":0.64,"y":16.3,"x2":0.75,"y2":17.17},{"x":0.9,"y":16.25,"x2":1.02,"y2":17.17},{"x":1.15,"y":16.2,"x2":1.3,"y2":17.24},{"x":1.43,"y":16.1,"x2":1.57,"y2":17.17},{"x":1.72,"y":16,"x2":1.88,"y2":17.13},{"x":2.01,"y":16,"x2":2.19,"y2":17.82},{"x":2.27,"y":16.1,"x2":2.45,"y2":17.7},{"x":2.54,"y":16.1,"x2":2.74,"y2":17.82},{"x":2.82,"y":16.2,"x2":3.05,"y2":17.82},{"x":3.12,"y":16.32,"x2":3.34,"y2":17.82},{"x":3.41,"y":16.44,"x2":3.63,"y2":17.86},{"x":3.71,"y":16.55,"x2":3.94,"y2":17.86},{"x":3.97,"y":16.67,"x2":4.22,"y2":17.86},{"x":4.4,"y":16.9,"x2":4.49,"y2":17.47},{"x":4.68,"y":16.94,"x2":4.75,"y2":17.47},
{"x":1.33,"y":12.9,"x2":1.54,"y2":14.55},{"x":1.59,"y":12.43,"x2":1.9,"y2":15.1},{"x":1.85,"y":12.3,"x2":2.19,"y2":15.17},{"x":2.12,"y":12.3,"x2":2.47,"y2":15.24},{"x":2.41,"y":12.4,"x2":2.76,"y2":15.4},{"x":2.72,"y":12.5,"x2":3.07,"y2":15.4},{"x":3.03,"y":12.5,"x2":3.36,"y2":15.5},{"x":3.32,"y":12.75,"x2":3.65,"y2":15.5},{"x":3.6,"y":13,"x2":3.94,"y2":15.55},{"x":3.91,"y":13,"x2":4.22,"y2":15.6},{"x":4.22,"y":13.7,"x2":4.51,"y2":15.75},{"x":4.5,"y":13.7,"x2":4.8,"y2":15.75},{"x":4.75,"y":14.4,"x2":5.09,"y2":15.9},{"x":5,"y":14.5,"x2":5.37,"y2":16.5},{"x":5.3,"y":15.05,"x2":5.48,"y2":16.5},{"x":5.59,"y":15.05,"x2":5.68,"y2":15.55},{"x":5.88,"y":15.2,"x2":5.97,"y2":15.65},{"x":6.17,"y":15.2,"x2":6.26,"y2":15.5},{"x":6.44,"y":15.2,"x2":6.48,"y2":15.5},{"x":6.7,"y":15.1,"x2":6.74,"y2":15.4},{"x":6.99,"y":15,"x2":7.03,"y2":15.3},{"x":7.28,"y":14.95,"x2":7.31,"y2":15.2},{"x":7.6,"y":14.65,"x2":7.72,"y2":15.4},{"x":7.88,"y":14.65,"x2":7.99,"y2":15.5},{"x":8.16,"y":14.65,"x2":8.32,"y2":15.75},{"x":8.45,"y":14.7,"x2":8.6,"y2":15.9},{"x":8.76,"y":14.7,"x2":8.91,"y2":15.95},{"x":9.05,"y":14.95,"x2":9.18,"y2":15.85},{"x":9.35,"y":15.05,"x2":9.49,"y2":16.1},{"x":9.62,"y":15.15,"x2":9.75,"y2":16.1},{"x":9.97,"y":15.65,"x2":10.01,"y2":16.2},{"x":10.24,"y":15.7,"x2":10.28,"y2":16.1},{"x":10.5,"y":15.85,"x2":10.52,"y2":16.05},{"x":10.78,"y":15.85,"x2":10.8,"y2":16.05},{"x":1.02,"y":14.95,"x2":1.03,"y2":15.05},{"x":1.3,"y":14.9,"x2":1.31,"y2":15},{"x":1.58,"y":14.7,"x2":1.6,"y2":14.9},
{"x":6.57,"y":16.2,"x2":6.66,"y2":16.9},{"x":6.83,"y":16.1,"x2":6.97,"y2":17},{"x":7.14,"y":16.2,"x2":7.27,"y2":17.1},{"x":7.41,"y":16.3,"x2":7.58,"y2":17.6},{"x":7.72,"y":16.44,"x2":7.89,"y2":17.7},{"x":8.01,"y":16.44,"x2":8.19,"y2":17.77},{"x":8.29,"y":16.55,"x2":8.47,"y2":17.7},{"x":8.58,"y":16.55,"x2":8.76,"y2":17.7},{"x":8.87,"y":16.55,"x2":9.05,"y2":17.7},{"x":9.14,"y":16.44,"x2":9.31,"y2":17.7},{"x":9.44,"y":16.44,"x2":9.58,"y2":17.6},{"x":9.83,"y":17.24,"x2":9.86,"y2":17.5},{"x":6.04,"y":16,"x2":6.17,"y2":16.9},{"x":6.3,"y":16.1,"x2":6.39,"y2":16.8},
{"x":2.63,"y":7.1,"x2":2.69,"y2":7.7},{"x":2.91,"y":6.9,"x2":3,"y2":7.8},{"x":3.16,"y":6.76,"x2":3.29,"y2":8},{"x":3.42,"y":6.6,"x2":3.6,"y2":8.4},{"x":3.71,"y":7,"x2":3.96,"y2":9.07},{"x":4,"y":7.24,"x2":4.27,"y2":9.3},{"x":4.29,"y":7.35,"x2":4.58,"y2":9.8},{"x":4.58,"y":7.45,"x2":4.84,"y2":9.8},{"x":4.87,"y":7.65,"x2":5.11,"y2":9.9},{"x":5.2,"y":8.6,"x2":5.37,"y2":10},{"x":5.48,"y":8.7,"x2":5.68,"y2":10.35},{"x":5.77,"y":9.07,"x2":5.99,"y2":10.7},
{"x":3.6,"y":10.3,"x2":3.7,"y2":10.9},{"x":3.87,"y":10.2,"x2":3.99,"y2":10.8},{"x":4.15,"y":10.45,"x2":4.31,"y2":11.15},{"x":4.44,"y":10,"x2":4.59,"y2":11.5},{"x":4.71,"y":10.25,"x2":4.91,"y2":11.72},{"x":5.02,"y":10,"x2":5.2,"y2":11.72},{"x":5.28,"y":10.7,"x2":5.48,"y2":11.8},{"x":5.59,"y":10.7,"x2":5.86,"y2":12.76},{"x":5.88,"y":10.7,"x2":6.12,"y2":12.76},{"x":6.17,"y":10.45,"x2":6.48,"y2":13.1},
{"x":5.57,"y":7.4,"x2":5.68,"y2":8.2},{"x":6.06,"y":7.4,"x2":6.2,"y2":8.6},{"x":6.36,"y":7.24,"x2":6.77,"y2":13.2},{"x":6.64,"y":7.24,"x2":7.05,"y2":13.2},{"x":6.93,"y":7.24,"x2":7.33,"y2":13.3},{"x":7.22,"y":7.24,"x2":7.62,"y2":13.3},{"x":7.5,"y":7.24,"x2":7.9,"y2":13.3},{"x":7.79,"y":7.24,"x2":8.2,"y2":13.35},{"x":8.07,"y":7.24,"x2":8.48,"y2":13.2},{"x":8.36,"y":7.24,"x2":8.75,"y2":13},{"x":8.65,"y":7.6,"x2":9.07,"y2":13},{"x":9.07,"y":7.9,"x2":9.4,"y2":12.6},
{"x":9.07,"y":11,"x2":9.18,"y2":11.8},{"x":9.36,"y":11.25,"x2":9.43,"y2":11.7},{"x":9.66,"y":11.5,"x2":9.68,"y2":11.65},{"x":9.89,"y":8.6,"x2":9.95,"y2":9.2},{"x":10.2,"y":8.7,"x2":10.24,"y2":9.2},{"x":10.49,"y":8.7,"x2":10.58,"y2":9.5},{"x":10.77,"y":8.7,"x2":10.86,"y2":9.6},
{"x":9.18,"y":12.15,"x2":9.49,"y2":14.55},{"x":9.49,"y":12.5,"x2":9.8,"y2":14.7},{"x":9.75,"y":12.65,"x2":10.07,"y2":14.6},{"x":10.06,"y":13,"x2":10.33,"y2":14.8},{"x":10.41,"y":13.1,"x2":10.58,"y2":14.7},{"x":10.73,"y":13.1,"x2":10.95,"y2":14.8},
{"x":3.6,"y":6,"x2":3.69,"y2":6.7},{"x":3.87,"y":5.63,"x2":4,"y2":6.65},{"x":4.18,"y":5.63,"x2":4.29,"y2":6.65},{"x":4.47,"y":5.75,"x2":4.58,"y2":6.65},{"x":4.77,"y":6.09,"x2":4.82,"y2":6.55},{"x":5.09,"y":6.09,"x2":5.11,"y2":6.55},{"x":5.39,"y":6.3,"x2":5.4,"y2":6.45},{"x":5.68,"y":6.4,"x2":5.69,"y2":6.5},{"x":6.2,"y":6.4,"x2":6.21,"y2":6.5},{"x":6.52,"y":6.3,"x2":6.53,"y2":6.45},{"x":6.81,"y":6.2,"x2":6.88,"y2":6.8},{"x":7.1,"y":6.15,"x2":7.17,"y2":6.8},{"x":7.39,"y":6.15,"x2":7.45,"y2":6.8},{"x":7.67,"y":6.2,"x2":7.74,"y2":6.8},{"x":7.94,"y":6.3,"x2":7.95,"y2":6.45},{"x":8.22,"y":6.4,"x2":8.23,"y2":6.5},{"x":8.47,"y":6.45,"x2":8.48,"y2":6.55},
{"x":6.61,"y":4.75,"x2":6.62,"y2":4.9},{"x":6.88,"y":4.7,"x2":6.92,"y2":5.15},{"x":7.2,"y":4.7,"x2":7.22,"y2":5.15},{"x":7.47,"y":4.7,"x2":7.5,"y2":5.1},{"x":7.74,"y":4.7,"x2":7.76,"y2":4.9},{"x":8.03,"y":4.7,"x2":8.05,"y2":4.9},{"x":8.3,"y":4.7,"x2":8.32,"y2":4.9},{"x":8.58,"y":4.6,"x2":8.6,"y2":4.8},{"x":8.85,"y":4.5,"x2":8.86,"y2":4.65},{"x":9.09,"y":4.35,"x2":9.1,"y2":4.5},{"x":9.35,"y":4.2,"x2":9.36,"y2":4.35},{"x":9.62,"y":4,"x2":9.63,"y2":4.15},{"x":9.81,"y":3.3,"x2":9.88,"y2":4},{"x":10.1,"y":3.3,"x2":10.19,"y2":4.1},{"x":10.4,"y":3.3,"x2":10.49,"y2":4.2},{"x":10.68,"y":3.2,"x2":10.77,"y2":4.3},{"x":10.95,"y":3.2,"x2":11,"y2":3.55},
{"x":1.4,"y":4.3,"x2":1.42,"y2":4.55},{"x":1.67,"y":3.75,"x2":1.72,"y2":4.3},{"x":1.88,"y":3.5,"x2":2.01,"y2":4.5},{"x":2.14,"y":3.1,"x2":2.29,"y2":4.4},{"x":2.41,"y":2.85,"x2":2.63,"y2":4.6},{"x":2.67,"y":2.75,"x2":2.91,"y2":4.7},{"x":2.98,"y":2.6,"x2":3.2,"y2":4.85},{"x":3.25,"y":2.4,"x2":3.51,"y2":4.95},{"x":3.56,"y":2.75,"x2":3.8,"y2":5.15},{"x":3.85,"y":3.1,"x2":4.09,"y2":5.4},{"x":4.13,"y":4.15,"x2":4.35,"y2":5.3},{"x":4.44,"y":4.4,"x2":4.62,"y2":5.3},{"x":4.71,"y":4.6,"x2":4.89,"y2":5.15},{"x":4.98,"y":4.6,"x2":5.02,"y2":4.95},{"x":5.2,"y":4.9,"x2":5.21,"y2":5},{"x":0.86,"y":4.4,"x2":0.87,"y2":4.5},{"x":1.13,"y":4.3,"x2":1.14,"y2":4.4},
{"x":0,"y":1.7,"x2":0.06,"y2":2.6},{"x":0.22,"y":1.4,"x2":0.4,"y2":2.9},{"x":0.5,"y":1.25,"x2":0.7,"y2":3},{"x":0.79,"y":1.25,"x2":0.99,"y2":3.1},{"x":1.05,"y":1.25,"x2":1.28,"y2":3.1},{"x":1.44,"y":2.2,"x2":1.52,"y2":2.9},{"x":1.75,"y":2.3,"x2":1.76,"y2":2.4},{"x":1.58,"y":1.2,"x2":1.59,"y2":1.3},{"x":1.88,"y":1,"x2":1.89,"y2":1.1},
{"x":3.6,"y":1.3,"x2":3.82,"y2":3},{"x":3.9,"y":0.7,"x2":4.14,"y2":3},{"x":4.18,"y":0.6,"x2":4.45,"y2":2.9},{"x":4.44,"y":0.35,"x2":4.75,"y2":3},{"x":4.75,"y":0.2,"x2":5.06,"y2":3},{"x":5.02,"y":0.1,"x2":5.33,"y2":3},{"x":5.2,"y":0.1,"x2":5.5,"y2":2.95},{"x":5.46,"y":0.1,"x2":5.81,"y2":2.95},{"x":5.77,"y":0.1,"x2":5.95,"y2":1.25},
{"x":5.44,"y":0.1,"x2":5.68,"y2":1.25},{"x":5.73,"y":0.1,"x2":5.86,"y2":1.15},{"x":5.99,"y":0.1,"x2":6.17,"y2":1.25},{"x":6.29,"y":0.1,"x2":6.43,"y2":1.25},{"x":6.57,"y":0.1,"x2":6.7,"y2":1.15},{"x":6,"y":2.2,"x2":6.06,"y2":2.75},{"x":6.3,"y":2.2,"x2":6.39,"y2":2.9},{"x":6.61,"y":2.3,"x2":6.66,"y2":2.95},{"x":6.88,"y":2.3,"x2":6.96,"y2":3.2},{"x":7.19,"y":2.3,"x2":7.28,"y2":2.9},{"x":7.76,"y":2.3,"x2":7.81,"y2":2.5},{"x":8.03,"y":2.3,"x2":8.04,"y2":2.4},
{"x":8.03,"y":0.15,"x2":8.07,"y2":0.55},{"x":8.6,"y":0.45,"x2":8.66,"y2":0.9},{"x":8.96,"y":0.8,"x2":9.09,"y2":2.3},{"x":9.22,"y":0.9,"x2":9.44,"y2":2.4},{"x":9.49,"y":1.15,"x2":9.73,"y2":2.5},{"x":9.8,"y":1.5,"x2":10.01,"y2":2.6},{"x":10.15,"y":1.6,"x2":10.28,"y2":2.5},{"x":10.51,"y":1.85,"x2":10.58,"y2":2.5},{"x":10.8,"y":1.95,"x2":10.9,"y2":2.5},{"x":8.2,"y":1.95,"x2":8.25,"y2":2.4},{"x":8.38,"y":1,"x2":8.39,"y2":1.1},{"x":8.69,"y":2.15,"x2":8.7,"y2":2.25},
{"x":0.06,"y":0.1,"x2":0.07,"y2":0.2},{"x":0.33,"y":0.1,"x2":0.34,"y2":0.2},{"x":0.61,"y":0.1,"x2":0.62,"y2":0.2},{"x":0.88,"y":0.1,"x2":0.89,"y2":0.2},{"x":1.19,"y":0.1,"x2":1.2,"y2":0.2},{"x":1.46,"y":0.1,"x2":1.47,"y2":0.2},{"x":1.76,"y":0.1,"x2":1.77,"y2":0.2},
{"x":3.07,"y":10.8,"x2":3.14,"y2":11.4},{"x":3.34,"y":10.7,"x2":3.43,"y2":11.55},{"x":3.91,"y":11.25,"x2":3.97,"y2":11.65},{"x":0.02,"y":9.2,"x2":0.08,"y2":9.8},{"x":0.35,"y":9.35,"x2":0.37,"y2":9.6},{"x":1.88,"y":5.3,"x2":1.92,"y2":5.9}
],
"hd":[
{"x":0.57,"y":16.85,"x2":0.6,"y2":17.1},{"x":0.85,"y":16.75,"x2":0.89,"y2":17.15},{"x":1.13,"y":16.6,"x2":1.19,"y2":17.1},{"x":1.39,"y":16.55,"x2":1.44,"y2":17},{"x":1.68,"y":16.5,"x2":1.69,"y2":16.65},{"x":1.97,"y":16.45,"x2":1.98,"y2":16.6},{"x":2.25,"y":16.4,"x2":2.29,"y2":16.9},{"x":2.53,"y":16.4,"x2":2.63,"y2":17.15},{"x":2.81,"y":16.5,"x2":2.92,"y2":17.35},{"x":3.09,"y":16.55,"x2":3.2,"y2":17.5},{"x":3.38,"y":16.6,"x2":3.51,"y2":17.6},{"x":3.69,"y":16.7,"x2":3.82,"y2":17.65},{"x":3.98,"y":16.7,"x2":4.08,"y2":17.65},{"x":4.26,"y":16.9,"x2":4.37,"y2":17.65},{"x":4.59,"y":17,"x2":4.66,"y2":17.6},{"x":4.9,"y":17.1,"x2":4.93,"y2":17.45},{"x":5.21,"y":17.35,"x2":5.22,"y2":17.45},{"x":5.5,"y":17.45,"x2":5.51,"y2":17.55},{"x":5.76,"y":17.4,"x2":5.77,"y2":17.5},{"x":7.53,"y":17.8,"x2":7.54,"y2":17.9},{"x":7.79,"y":17.7,"x2":7.82,"y2":17.95},{"x":8.08,"y":17.65,"x2":8.1,"y2":17.95},{"x":8.38,"y":17.85,"x2":8.39,"y2":17.95},
{"x":2.08,"y":12.9,"x2":2.36,"y2":15},{"x":2.35,"y":12.7,"x2":2.63,"y2":15.1},{"x":2.62,"y":12.5,"x2":2.94,"y2":15.2},{"x":2.9,"y":12.3,"x2":3.23,"y2":15.25},{"x":3.18,"y":12.5,"x2":3.53,"y2":15.4},{"x":3.47,"y":12.6,"x2":3.84,"y2":15.65},{"x":3.75,"y":12.85,"x2":4.13,"y2":15.8},{"x":4.06,"y":12.85,"x2":4.41,"y2":15.8},{"x":4.42,"y":13.2,"x2":4.7,"y2":15.75},{"x":4.75,"y":13.9,"x2":5.02,"y2":15.75},{"x":5.1,"y":14.4,"x2":5.32,"y2":15.85},{"x":5.45,"y":14.85,"x2":5.56,"y2":15.65},{"x":5.77,"y":15.05,"x2":5.85,"y2":15.9},{"x":6.05,"y":15.2,"x2":6.22,"y2":16.45},{"x":6.34,"y":15.2,"x2":6.4,"y2":15.65},{"x":6.63,"y":15.05,"x2":6.65,"y2":15.3},{"x":6.91,"y":14.95,"x2":6.93,"y2":15.2},{"x":7.18,"y":14.85,"x2":7.2,"y2":15.1},{"x":7.44,"y":14.7,"x2":7.48,"y2":15.35},{"x":7.7,"y":14.65,"x2":7.84,"y2":15.5},{"x":7.99,"y":14.65,"x2":8.12,"y2":15.75},{"x":8.26,"y":14.65,"x2":8.41,"y2":15.8},{"x":8.57,"y":14.7,"x2":8.72,"y2":15.85},{"x":8.88,"y":14.7,"x2":8.98,"y2":15.85},{"x":9.19,"y":14.8,"x2":9.25,"y2":15.6},{"x":9.41,"y":14.8,"x2":9.42,"y2":15},{"x":9.69,"y":14.7,"x2":9.7,"y2":14.85},
{"x":6.46,"y":16.1,"x2":6.55,"y2":16.55},{"x":6.8,"y":16.2,"x2":6.82,"y2":16.8},{"x":7.04,"y":16.2,"x2":7.11,"y2":16.9},{"x":7.35,"y":16.3,"x2":7.41,"y2":16.9},{"x":7.64,"y":16.4,"x2":7.7,"y2":17},{"x":7.98,"y":16.95,"x2":7.99,"y2":17.05},
{"x":2.69,"y":10.8,"x2":2.76,"y2":11.55},{"x":2.89,"y":10.2,"x2":3.23,"y2":13},{"x":3.16,"y":10.05,"x2":3.52,"y2":12.65},{"x":3.51,"y":10.65,"x2":3.82,"y2":13},{"x":3.82,"y":10.7,"x2":3.96,"y2":12},{"x":4.13,"y":11,"x2":4.24,"y2":11.95},{"x":2.98,"y":8.7,"x2":3.04,"y2":9.15},
{"x":4.42,"y":8.9,"x2":4.43,"y2":9},{"x":4.7,"y":8.5,"x2":4.77,"y2":9.2},{"x":4.35,"y":5.95,"x2":4.46,"y2":6.6},{"x":4.59,"y":5.6,"x2":5.01,"y2":8.85},{"x":4.75,"y":4.5,"x2":5.32,"y2":9.3},{"x":5.03,"y":4.6,"x2":5.63,"y2":9.55},{"x":5.32,"y":4.6,"x2":5.94,"y2":9.9},{"x":5.6,"y":4.6,"x2":6.25,"y2":10},{"x":5.9,"y":4.6,"x2":6.55,"y2":10.1},{"x":6.25,"y":5.85,"x2":6.82,"y2":10.5},{"x":6.6,"y":5.75,"x2":7.13,"y2":10.5},{"x":6.91,"y":6,"x2":7.44,"y2":10.45},{"x":7.2,"y":6.1,"x2":7.7,"y2":10.3},{"x":7.48,"y":6.1,"x2":7.92,"y2":9.95},{"x":7.79,"y":6.15,"x2":8.19,"y2":9.6},{"x":8.1,"y":6.3,"x2":8.46,"y2":9.2},{"x":8.36,"y":6.35,"x2":8.4,"y2":6.65},{"x":8.55,"y":7.1,"x2":8.6,"y2":7.9},{"x":8.79,"y":7.3,"x2":8.82,"y2":7.65},{"x":8.7,"y":9,"x2":8.71,"y2":9.1},
{"x":2.56,"y":2.9,"x2":2.6,"y2":3.25},{"x":2.83,"y":2.75,"x2":2.99,"y2":4},{"x":3.1,"y":2.65,"x2":3.3,"y2":4.25},{"x":3.38,"y":2.65,"x2":3.65,"y2":5},{"x":3.65,"y":2.55,"x2":3.96,"y2":5.15},{"x":3.93,"y":2.4,"x2":4.22,"y2":5},{"x":4.22,"y":2.3,"x2":4.33,"y2":3.5},{"x":4.48,"y":2.25,"x2":4.57,"y2":3.2},{"x":4.75,"y":2.3,"x2":4.85,"y2":3.25},{"x":5.01,"y":2.2,"x2":5.12,"y2":3.1},{"x":5.32,"y":2.2,"x2":5.41,"y2":3},{"x":5.6,"y":2.2,"x2":5.68,"y2":2.85},{"x":5.92,"y":2.4,"x2":5.93,"y2":2.5},{"x":6.18,"y":2.3,"x2":6.2,"y2":2.5},{"x":4.97,"y":1.4,"x2":5.01,"y2":1.9},{"x":5.19,"y":1.15,"x2":5.23,"y2":1.4},
{"x":5.32,"y":0.1,"x2":5.5,"y2":1.4},{"x":5.62,"y":0.1,"x2":5.77,"y2":1.15},{"x":5.92,"y":0.1,"x2":6.16,"y2":1.85},{"x":6.2,"y":0.1,"x2":6.38,"y2":1.95},{"x":6.51,"y":0.1,"x2":6.74,"y2":2.5},{"x":6.79,"y":0.1,"x2":7.15,"y2":3.15},{"x":7.06,"y":0.1,"x2":7.41,"y2":3.15},{"x":7.33,"y":0.1,"x2":7.66,"y2":2.5},{"x":7.62,"y":0.1,"x2":7.75,"y2":1.25},
{"x":7.88,"y":0.1,"x2":7.98,"y2":0.9},{"x":8.21,"y":0.25,"x2":8.28,"y2":1},{"x":8.53,"y":0.4,"x2":8.59,"y2":1.15},{"x":8.83,"y":0.6,"x2":8.9,"y2":1.4},{"x":9.16,"y":0.9,"x2":9.17,"y2":1},{"x":8.69,"y":1.9,"x2":8.7,"y2":2},{"x":9,"y":1.65,"x2":9,"y2":2.15},{"x":9.27,"y":1.95,"x2":9.28,"y2":2.05},
{"x":0.27,"y":2.85,"x2":0.28,"y2":3.05},{"x":0.58,"y":2.9,"x2":0.59,"y2":3},{"x":0.85,"y":2.85,"x2":0.88,"y2":3.2},{"x":1.13,"y":2.85,"x2":1.17,"y2":3.15},{"x":1.44,"y":3,"x2":1.45,"y2":3.1},{"x":0.03,"y":0.8,"x2":0.05,"y2":1.1},{"x":0.32,"y":1,"x2":0.33,"y2":1.1},
{"x":6.58,"y":12.4,"x2":6.67,"y2":13.1},{"x":6.82,"y":12.3,"x2":6.95,"y2":13.25},{"x":7.41,"y":12.2,"x2":7.5,"y2":13},{"x":7.69,"y":12.15,"x2":7.8,"y2":13.35},{"x":7.99,"y":12.15,"x2":8.12,"y2":13.45},{"x":8.28,"y":12.2,"x2":8.46,"y2":13.8},{"x":8.57,"y":12.35,"x2":8.77,"y2":14},{"x":8.85,"y":12.5,"x2":9.07,"y2":14.2},{"x":9.16,"y":12.65,"x2":9.38,"y2":14.5},{"x":9.49,"y":13.45,"x2":9.69,"y2":14.7},{"x":9.76,"y":13,"x2":9.96,"y2":14.55},{"x":10.05,"y":13.55,"x2":10.24,"y2":14.5},{"x":10.46,"y":14,"x2":10.47,"y2":14.1},
{"x":5.85,"y":10.9,"x2":5.94,"y2":11.7},{"x":6.12,"y":10.9,"x2":6.2,"y2":11.7},{"x":6.43,"y":10.9,"x2":6.5,"y2":11.6},{"x":6.71,"y":11,"x2":6.78,"y2":11.7},{"x":7,"y":11.25,"x2":7.05,"y2":11.7},{"x":7.3,"y":11.4,"x2":7.31,"y2":11.55},
{"x":6.6,"y":4.6,"x2":6.63,"y2":5.15},{"x":6.78,"y":4.75,"x2":6.85,"y2":5.4},{"x":7.05,"y":4.65,"x2":7.09,"y2":5.3},{"x":7.35,"y":4.7,"x2":7.38,"y2":5.15},{"x":7.66,"y":4.8,"x2":7.67,"y2":5},{"x":7.94,"y":4.9,"x2":7.95,"y2":5}
],
"lg":[{"k":0,"k2":1,"v":-0.35},{"k":1,"k2":2,"v":-0.25},{"k":2,"k2":3,"v":-0.15},{"k":3,"k2":4,"v":-0.07},{"k":4,"k2":5,"v":-0.03},{"k":5,"k2":6,"v":0},{"k":6,"k2":7,"v":0.03},{"k":7,"k2":8,"v":0.07},{"k":8,"k2":9,"v":0.15},{"k":9,"k2":10,"v":0.25},{"k":10,"k2":11,"v":0.35}]},
"vconcat":[{"bounds":"flush","columns":2,"spacing":{"column":136,"row":90},"concat":[
{"width":522,"height":261,"title":{"text":"Vertical transport","anchor":"start","frame":"group","dx":32,"fontSize":21,"fontWeight":"normal","offset":-28},"resolve":{"axis":{"y":"independent","x":"independent"}},"layer":[
{"data":{"name":"a"},"mark":{"type":"area"},"encoding":{"x":{"field":"x","type":"quantitative","scale":{"domain":[0,11],"nice":false,"zero":false},"axis":{"values":[0,1,2,3,4,5,6,7,8,9,10,11],"labelExpr":"['J','F','M','A','M','J','J','A','S','O','N','D'][datum.value]","title":null,"tickSize":14,"labelFontSize":16.5,"labelPadding":9,"labelAngle":0,"zindex":1}},"y":{"field":"l","type":"quantitative","scale":{"domain":[0,18],"nice":false,"zero":false},"axis":{"values":[0,1,2,3,4,5,6,7,8,9,10,11,12,13,14,15,16,17,18],"labelExpr":"['30.14','31.18','32.25','33.29','33.85','35','36.09','37.2','38.31','39.36','40.48','41.53','42.58','43.63','44.67','45.72','46.86','47.91','49.06'][datum.value]","title":"Latitude of coastal grids","titleFontSize":17.5,"titleFontWeight":"normal","tickSize":14,"labelFontSize":14.5,"labelFontWeight":"bold","labelPadding":8,"titlePadding":11,"zindex":1}},"y2":{"field":"h"},"detail":{"field":"g"},"color":{"field":"v","type":"quantitative","scale":{"type":"threshold","domain":[-0.3,-0.2,-0.1,-0.05,-0.02,0.02,0.05,0.1,0.2,0.3],"range":["#1b2c62","#2460ab","#69afdf","#ade0f7","#e3f3fb","#ffffff","#fef0c0","#fdc255","#f87d2c","#d92b2a","#921a1c"]},"legend":null}}},
{"data":{"name":"ha"},"mark":{"type":"rule","color":"black","strokeWidth":1.2},"encoding":{"x":{"field":"x","type":"quantitative","axis":null},"x2":{"field":"x2"},"y":{"field":"y","type":"quantitative","axis":{"values":[0.5,1.5,2.5,3.5,4.5,5.5,6.5,7.5,8.5,9.5,10.5,11.5,12.5,13.5,14.5,15.5,16.5,17.5],"labels":false,"domain":false,"title":null,"tickSize":8,"orient":"left"}},"y2":{"field":"y2"}}},
{"data":{"values":[{"a":0}]},"mark":{"type":"rect","fill":null,"stroke":"black","strokeWidth":2},"encoding":{"x":{"datum":0,"axis":null},"x2":{"datum":11},"y":{"datum":0,"axis":null},"y2":{"datum":18}}},
{"data":{"values":[{"x":-2.42,"y":19.3,"s":"(a)"}]},"mark":{"type":"text","fontSize":30,"fontWeight":"bold","align":"left","baseline":"middle"},"encoding":{"x":{"field":"x","type":"quantitative","axis":null},"y":{"field":"y","type":"quantitative","axis":null},"text":{"field":"s"}}}
]},
{"width":523,"height":261,"title":{"text":"Ekman component","anchor":"start","frame":"group","dx":32,"fontSize":21,"fontWeight":"normal","offset":-28},"resolve":{"axis":{"y":"independent","x":"independent"}},"layer":[
{"data":{"name":"b"},"mark":{"type":"area"},"encoding":{"x":{"field":"x","type":"quantitative","scale":{"domain":[0,11],"nice":false,"zero":false},"axis":{"values":[0,1,2,3,4,5,6,7,8,9,10,11],"labelExpr":"['J','F','M','A','M','J','J','A','S','O','N','D'][datum.value]","title":null,"tickSize":14,"labelFontSize":16.5,"labelPadding":9,"labelAngle":0,"zindex":1}},"y":{"field":"l","type":"quantitative","scale":{"domain":[0,18],"nice":false,"zero":false},"axis":{"values":[0,1,2,3,4,5,6,7,8,9,10,11,12,13,14,15,16,17,18],"labelExpr":"['30.14','31.18','32.25','33.29','33.85','35','36.09','37.2','38.31','39.36','40.48','41.53','42.58','43.63','44.67','45.72','46.86','47.91','49.06'][datum.value]","title":"Latitude of coastal grids","titleFontSize":17.5,"titleFontWeight":"normal","tickSize":14,"labelFontSize":14.5,"labelFontWeight":"bold","labelPadding":8,"titlePadding":11,"zindex":1}},"y2":{"field":"h"},"detail":{"field":"g"},"color":{"field":"v","type":"quantitative","scale":{"type":"threshold","domain":[-0.3,-0.2,-0.1,-0.05,-0.02,0.02,0.05,0.1,0.2,0.3],"range":["#1b2c62","#2460ab","#69afdf","#ade0f7","#e3f3fb","#ffffff","#fef0c0","#fdc255","#f87d2c","#d92b2a","#921a1c"]},"legend":null}}},
{"data":{"name":"hb"},"mark":{"type":"rule","color":"black","strokeWidth":1.2},"encoding":{"x":{"field":"x","type":"quantitative","axis":null},"x2":{"field":"x2"},"y":{"field":"y","type":"quantitative","axis":{"values":[0.5,1.5,2.5,3.5,4.5,5.5,6.5,7.5,8.5,9.5,10.5,11.5,12.5,13.5,14.5,15.5,16.5,17.5],"labels":false,"domain":false,"title":null,"tickSize":8,"orient":"left"}},"y2":{"field":"y2"}}},
{"data":{"values":[{"a":0}]},"mark":{"type":"rect","fill":null,"stroke":"black","strokeWidth":2},"encoding":{"x":{"datum":0,"axis":null},"x2":{"datum":11},"y":{"datum":0,"axis":null},"y2":{"datum":18}}},
{"data":{"values":[{"x":-2.48,"y":19.3,"s":"(b)"}]},"mark":{"type":"text","fontSize":30,"fontWeight":"bold","align":"left","baseline":"middle"},"encoding":{"x":{"field":"x","type":"quantitative","axis":null},"y":{"field":"y","type":"quantitative","axis":null},"text":{"field":"s"}}}
]},
{"width":522,"height":261,"title":{"text":"Geostrophic component","anchor":"start","frame":"group","dx":30,"fontSize":21,"fontWeight":"normal","offset":-28},"resolve":{"axis":{"y":"independent","x":"independent"}},"layer":[
{"data":{"name":"c"},"mark":{"type":"area"},"encoding":{"x":{"field":"x","type":"quantitative","scale":{"domain":[0,11],"nice":false,"zero":false},"axis":{"values":[0,1,2,3,4,5,6,7,8,9,10,11],"labelExpr":"['J','F','M','A','M','J','J','A','S','O','N','D'][datum.value]","title":null,"tickSize":14,"labelFontSize":16.5,"labelPadding":9,"labelAngle":0,"zindex":1}},"y":{"field":"l","type":"quantitative","scale":{"domain":[0,18],"nice":false,"zero":false},"axis":{"values":[0,1,2,3,4,5,6,7,8,9,10,11,12,13,14,15,16,17,18],"labelExpr":"['30.14','31.18','32.25','33.29','33.85','35','36.09','37.2','38.31','39.36','40.48','41.53','42.58','43.63','44.67','45.72','46.86','47.91','49.06'][datum.value]","title":"Latitude of coastal grids","titleFontSize":17.5,"titleFontWeight":"normal","tickSize":14,"labelFontSize":14.5,"labelFontWeight":"bold","labelPadding":8,"titlePadding":11,"zindex":1}},"y2":{"field":"h"},"detail":{"field":"g"},"color":{"field":"v","type":"quantitative","scale":{"type":"threshold","domain":[-0.3,-0.2,-0.1,-0.05,-0.02,0.02,0.05,0.1,0.2,0.3],"range":["#1b2c62","#2460ab","#69afdf","#ade0f7","#e3f3fb","#ffffff","#fef0c0","#fdc255","#f87d2c","#d92b2a","#921a1c"]},"legend":null}}},
{"data":{"name":"hc"},"mark":{"type":"rule","color":"black","strokeWidth":1.2},"encoding":{"x":{"field":"x","type":"quantitative","axis":null},"x2":{"field":"x2"},"y":{"field":"y","type":"quantitative","axis":{"values":[0.5,1.5,2.5,3.5,4.5,5.5,6.5,7.5,8.5,9.5,10.5,11.5,12.5,13.5,14.5,15.5,16.5,17.5],"labels":false,"domain":false,"title":null,"tickSize":8,"orient":"left"}},"y2":{"field":"y2"}}},
{"data":{"values":[{"a":0}]},"mark":{"type":"rect","fill":null,"stroke":"black","strokeWidth":2},"encoding":{"x":{"datum":0,"axis":null},"x2":{"datum":11},"y":{"datum":0,"axis":null},"y2":{"datum":18}}},
{"data":{"values":[{"x":-2.42,"y":19.25,"s":"(c)"}]},"mark":{"type":"text","fontSize":30,"fontWeight":"bold","align":"left","baseline":"middle"},"encoding":{"x":{"field":"x","type":"quantitative","axis":null},"y":{"field":"y","type":"quantitative","axis":null},"text":{"field":"s"}}}
]},
{"width":523,"height":261,"title":{"text":"Ekman + geostrophic","anchor":"start","frame":"group","dx":30,"fontSize":21,"fontWeight":"normal","offset":-28},"resolve":{"axis":{"y":"independent","x":"independent"}},"layer":[
{"data":{"name":"d"},"mark":{"type":"area"},"encoding":{"x":{"field":"x","type":"quantitative","scale":{"domain":[0,11],"nice":false,"zero":false},"axis":{"values":[0,1,2,3,4,5,6,7,8,9,10,11],"labelExpr":"['J','F','M','A','M','J','J','A','S','O','N','D'][datum.value]","title":null,"tickSize":14,"labelFontSize":16.5,"labelPadding":9,"labelAngle":0,"zindex":1}},"y":{"field":"l","type":"quantitative","scale":{"domain":[0,18],"nice":false,"zero":false},"axis":{"values":[0,1,2,3,4,5,6,7,8,9,10,11,12,13,14,15,16,17,18],"labelExpr":"['30.14','31.18','32.25','33.29','33.85','35','36.09','37.2','38.31','39.36','40.48','41.53','42.58','43.63','44.67','45.72','46.86','47.91','49.06'][datum.value]","title":"Latitude of coastal grids","titleFontSize":17.5,"titleFontWeight":"normal","tickSize":14,"labelFontSize":14.5,"labelFontWeight":"bold","labelPadding":8,"titlePadding":11,"zindex":1}},"y2":{"field":"h"},"detail":{"field":"g"},"color":{"field":"v","type":"quantitative","scale":{"type":"threshold","domain":[-0.3,-0.2,-0.1,-0.05,-0.02,0.02,0.05,0.1,0.2,0.3],"range":["#1b2c62","#2460ab","#69afdf","#ade0f7","#e3f3fb","#ffffff","#fef0c0","#fdc255","#f87d2c","#d92b2a","#921a1c"]},"legend":null}}},
{"data":{"name":"hd"},"mark":{"type":"rule","color":"black","strokeWidth":1.2},"encoding":{"x":{"field":"x","type":"quantitative","axis":null},"x2":{"field":"x2"},"y":{"field":"y","type":"quantitative","axis":{"values":[0.5,1.5,2.5,3.5,4.5,5.5,6.5,7.5,8.5,9.5,10.5,11.5,12.5,13.5,14.5,15.5,16.5,17.5],"labels":false,"domain":false,"title":null,"tickSize":8,"orient":"left"}},"y2":{"field":"y2"}}},
{"data":{"values":[{"a":0}]},"mark":{"type":"rect","fill":null,"stroke":"black","strokeWidth":2},"encoding":{"x":{"datum":0,"axis":null},"x2":{"datum":11},"y":{"datum":0,"axis":null},"y2":{"datum":18}}},
{"data":{"values":[{"x":-2.48,"y":19.25,"s":"(d)"}]},"mark":{"type":"text","fontSize":30,"fontWeight":"bold","align":"left","baseline":"middle"},"encoding":{"x":{"field":"x","type":"quantitative","axis":null},"y":{"field":"y","type":"quantitative","axis":null},"text":{"field":"s"}}}
]}
]},
{"width":1181,"height":24,"data":{"name":"lg"},"mark":{"type":"rect","stroke":"black","strokeWidth":1},"encoding":{"x":{"field":"k","type":"quantitative","scale":{"domain":[-4.59,16.43],"nice":false,"zero":false},"axis":{"values":[1,2,3,4,5,6,7,8,9,10],"labelExpr":"['','-0.3','-0.2','-0.1','-0.05','-0.02','0.02','0.05','0.1','0.2','0.3'][datum.value]","title":null,"domain":false,"ticks":false,"labelFontSize":19.5,"labelPadding":4,"labelOverlap":false}},"x2":{"field":"k2"},"y":{"datum":0,"scale":{"domain":[0,1]},"axis":null},"y2":{"datum":1},"color":{"field":"v","type":"quantitative","scale":{"type":"threshold","domain":[-0.3,-0.2,-0.1,-0.05,-0.02,0.02,0.05,0.1,0.2,0.3],"range":["#1b2c62","#2460ab","#69afdf","#ade0f7","#e3f3fb","#ffffff","#fef0c0","#fdc255","#f87d2c","#d92b2a","#921a1c"]},"legend":null}}}
],"spacing":29}
